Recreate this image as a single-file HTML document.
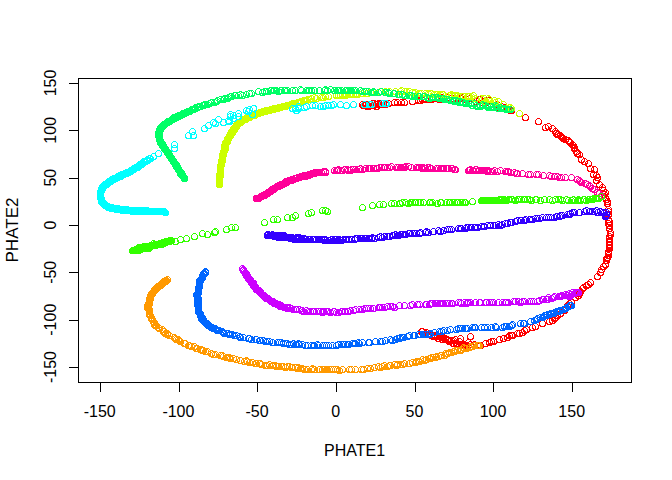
<!DOCTYPE html>
<html><head><meta charset="utf-8"><style>
html,body{margin:0;padding:0;background:#fff;}
svg{display:block;}
text{font-family:"Liberation Sans",sans-serif;font-size:16px;fill:#000;}
</style></head><body>
<svg width="672" height="480" viewBox="0 0 672 480">
<rect width="672" height="480" fill="#fff"/>
<g fill="none" stroke-width="1" shape-rendering="crispEdges">
<g stroke="#FF0000">
<circle cx="499.5" cy="339.5" r="3"/>
<circle cx="548.5" cy="126.5" r="3"/>
<circle cx="495.5" cy="105.5" r="3"/>
<circle cx="522.5" cy="332.5" r="3"/>
<circle cx="451.5" cy="340.5" r="3"/>
<circle cx="581.5" cy="159.5" r="3"/>
<circle cx="421.5" cy="331.5" r="3"/>
<circle cx="489.5" cy="100.5" r="3"/>
<circle cx="609.5" cy="247.5" r="3"/>
<circle cx="535.5" cy="326.5" r="3"/>
<circle cx="519.5" cy="333.5" r="3"/>
<circle cx="609.5" cy="248.5" r="3"/>
<circle cx="509.5" cy="335.5" r="3"/>
<circle cx="480.5" cy="345.5" r="3"/>
<circle cx="555.5" cy="131.5" r="3"/>
<circle cx="569.5" cy="141.5" r="3"/>
<circle cx="366.5" cy="104.5" r="3"/>
<circle cx="532.5" cy="327.5" r="3"/>
<circle cx="368.5" cy="105.5" r="3"/>
<circle cx="437.5" cy="98.5" r="3"/>
<circle cx="362.5" cy="104.5" r="3"/>
<circle cx="442.5" cy="336.5" r="3"/>
<circle cx="586.5" cy="285.5" r="3"/>
<circle cx="542.5" cy="323.5" r="3"/>
<circle cx="607.5" cy="257.5" r="3"/>
<circle cx="368.5" cy="106.5" r="3"/>
<circle cx="378.5" cy="103.5" r="3"/>
<circle cx="425.5" cy="333.5" r="3"/>
<circle cx="590.5" cy="168.5" r="3"/>
<circle cx="374.5" cy="103.5" r="3"/>
<circle cx="371.5" cy="104.5" r="3"/>
<circle cx="447.5" cy="339.5" r="3"/>
<circle cx="558.5" cy="134.5" r="3"/>
<circle cx="453.5" cy="343.5" r="3"/>
<circle cx="497.5" cy="104.5" r="3"/>
<circle cx="563.5" cy="138.5" r="3"/>
<circle cx="569.5" cy="303.5" r="3"/>
<circle cx="582.5" cy="288.5" r="3"/>
<circle cx="557.5" cy="134.5" r="3"/>
<circle cx="470.5" cy="336.5" r="3"/>
<circle cx="412.5" cy="101.5" r="3"/>
<circle cx="485.5" cy="343.5" r="3"/>
<circle cx="568.5" cy="140.5" r="3"/>
<circle cx="560.5" cy="313.5" r="3"/>
<circle cx="554.5" cy="318.5" r="3"/>
<circle cx="579.5" cy="293.5" r="3"/>
<circle cx="573.5" cy="145.5" r="3"/>
<circle cx="608.5" cy="253.5" r="3"/>
<circle cx="609.5" cy="242.5" r="3"/>
<circle cx="504.5" cy="107.5" r="3"/>
<circle cx="435.5" cy="336.5" r="3"/>
<circle cx="442.5" cy="97.5" r="3"/>
<circle cx="606.5" cy="258.5" r="3"/>
<circle cx="397.5" cy="102.5" r="3"/>
<circle cx="449.5" cy="341.5" r="3"/>
<circle cx="603.5" cy="266.5" r="3"/>
<circle cx="482.5" cy="102.5" r="3"/>
<circle cx="429.5" cy="99.5" r="3"/>
<circle cx="422.5" cy="331.5" r="3"/>
<circle cx="608.5" cy="255.5" r="3"/>
<circle cx="600.5" cy="272.5" r="3"/>
<circle cx="538.5" cy="121.5" r="3"/>
<circle cx="610.5" cy="234.5" r="3"/>
<circle cx="602.5" cy="187.5" r="3"/>
<circle cx="425.5" cy="99.5" r="3"/>
<circle cx="565.5" cy="139.5" r="3"/>
<circle cx="460.5" cy="338.5" r="3"/>
<circle cx="608.5" cy="214.5" r="3"/>
<circle cx="608.5" cy="211.5" r="3"/>
<circle cx="590.5" cy="282.5" r="3"/>
<circle cx="386.5" cy="103.5" r="3"/>
<circle cx="606.5" cy="199.5" r="3"/>
<circle cx="509.5" cy="109.5" r="3"/>
<circle cx="597.5" cy="177.5" r="3"/>
<circle cx="486.5" cy="102.5" r="3"/>
<circle cx="428.5" cy="334.5" r="3"/>
<circle cx="404.5" cy="102.5" r="3"/>
<circle cx="372.5" cy="105.5" r="3"/>
<circle cx="570.5" cy="142.5" r="3"/>
<circle cx="372.5" cy="103.5" r="3"/>
<circle cx="364.5" cy="104.5" r="3"/>
<circle cx="562.5" cy="137.5" r="3"/>
<circle cx="469.5" cy="98.5" r="3"/>
<circle cx="503.5" cy="338.5" r="3"/>
<circle cx="549.5" cy="321.5" r="3"/>
<circle cx="583.5" cy="287.5" r="3"/>
<circle cx="507.5" cy="109.5" r="3"/>
<circle cx="510.5" cy="110.5" r="3"/>
<circle cx="575.5" cy="297.5" r="3"/>
<circle cx="519.5" cy="113.5" r="3"/>
<circle cx="608.5" cy="251.5" r="3"/>
<circle cx="466.5" cy="345.5" r="3"/>
<circle cx="491.5" cy="341.5" r="3"/>
<circle cx="609.5" cy="238.5" r="3"/>
<circle cx="577.5" cy="153.5" r="3"/>
<circle cx="456.5" cy="343.5" r="3"/>
<circle cx="461.5" cy="344.5" r="3"/>
<circle cx="609.5" cy="221.5" r="3"/>
<circle cx="579.5" cy="154.5" r="3"/>
<circle cx="507.5" cy="337.5" r="3"/>
<circle cx="597.5" cy="276.5" r="3"/>
<circle cx="457.5" cy="343.5" r="3"/>
<circle cx="572.5" cy="144.5" r="3"/>
<circle cx="574.5" cy="147.5" r="3"/>
<circle cx="458.5" cy="99.5" r="3"/>
<circle cx="363.5" cy="105.5" r="3"/>
<circle cx="498.5" cy="107.5" r="3"/>
<circle cx="435.5" cy="98.5" r="3"/>
<circle cx="453.5" cy="98.5" r="3"/>
<circle cx="607.5" cy="201.5" r="3"/>
<circle cx="459.5" cy="341.5" r="3"/>
<circle cx="564.5" cy="310.5" r="3"/>
<circle cx="465.5" cy="345.5" r="3"/>
<circle cx="388.5" cy="103.5" r="3"/>
<circle cx="555.5" cy="317.5" r="3"/>
<circle cx="383.5" cy="103.5" r="3"/>
<circle cx="603.5" cy="190.5" r="3"/>
<circle cx="485.5" cy="100.5" r="3"/>
<circle cx="605.5" cy="192.5" r="3"/>
<circle cx="474.5" cy="344.5" r="3"/>
<circle cx="588.5" cy="163.5" r="3"/>
<circle cx="556.5" cy="133.5" r="3"/>
<circle cx="610.5" cy="232.5" r="3"/>
<circle cx="445.5" cy="338.5" r="3"/>
<circle cx="609.5" cy="236.5" r="3"/>
<circle cx="375.5" cy="104.5" r="3"/>
<circle cx="588.5" cy="284.5" r="3"/>
<circle cx="489.5" cy="342.5" r="3"/>
<circle cx="478.5" cy="345.5" r="3"/>
<circle cx="560.5" cy="135.5" r="3"/>
<circle cx="545.5" cy="127.5" r="3"/>
<circle cx="448.5" cy="340.5" r="3"/>
<circle cx="445.5" cy="339.5" r="3"/>
<circle cx="440.5" cy="336.5" r="3"/>
<circle cx="571.5" cy="301.5" r="3"/>
<circle cx="380.5" cy="104.5" r="3"/>
<circle cx="574.5" cy="148.5" r="3"/>
<circle cx="552.5" cy="320.5" r="3"/>
<circle cx="526.5" cy="329.5" r="3"/>
<circle cx="512.5" cy="335.5" r="3"/>
<circle cx="448.5" cy="97.5" r="3"/>
<circle cx="466.5" cy="99.5" r="3"/>
<circle cx="431.5" cy="335.5" r="3"/>
<circle cx="596.5" cy="180.5" r="3"/>
<circle cx="442.5" cy="339.5" r="3"/>
<circle cx="609.5" cy="241.5" r="3"/>
<circle cx="608.5" cy="209.5" r="3"/>
<circle cx="460.5" cy="98.5" r="3"/>
<circle cx="438.5" cy="338.5" r="3"/>
<circle cx="370.5" cy="104.5" r="3"/>
<circle cx="365.5" cy="105.5" r="3"/>
<circle cx="599.5" cy="184.5" r="3"/>
<circle cx="481.5" cy="100.5" r="3"/>
<circle cx="609.5" cy="225.5" r="3"/>
<circle cx="594.5" cy="169.5" r="3"/>
<circle cx="463.5" cy="344.5" r="3"/>
<circle cx="608.5" cy="223.5" r="3"/>
<circle cx="609.5" cy="245.5" r="3"/>
<circle cx="605.5" cy="197.5" r="3"/>
<circle cx="576.5" cy="151.5" r="3"/>
<circle cx="493.5" cy="341.5" r="3"/>
<circle cx="377.5" cy="104.5" r="3"/>
<circle cx="609.5" cy="244.5" r="3"/>
<circle cx="373.5" cy="105.5" r="3"/>
<circle cx="557.5" cy="315.5" r="3"/>
<circle cx="437.5" cy="336.5" r="3"/>
<circle cx="561.5" cy="136.5" r="3"/>
<circle cx="439.5" cy="99.5" r="3"/>
<circle cx="456.5" cy="100.5" r="3"/>
<circle cx="479.5" cy="99.5" r="3"/>
<circle cx="443.5" cy="337.5" r="3"/>
<circle cx="462.5" cy="97.5" r="3"/>
<circle cx="552.5" cy="128.5" r="3"/>
<circle cx="431.5" cy="99.5" r="3"/>
<circle cx="455.5" cy="339.5" r="3"/>
<circle cx="439.5" cy="336.5" r="3"/>
<circle cx="601.5" cy="269.5" r="3"/>
<circle cx="524.5" cy="330.5" r="3"/>
<circle cx="578.5" cy="295.5" r="3"/>
<circle cx="369.5" cy="104.5" r="3"/>
<circle cx="367.5" cy="106.5" r="3"/>
<circle cx="394.5" cy="102.5" r="3"/>
<circle cx="608.5" cy="252.5" r="3"/>
<circle cx="376.5" cy="106.5" r="3"/>
<circle cx="464.5" cy="99.5" r="3"/>
<circle cx="435.5" cy="335.5" r="3"/>
<circle cx="606.5" cy="260.5" r="3"/>
<circle cx="584.5" cy="161.5" r="3"/>
<circle cx="511.5" cy="335.5" r="3"/>
<circle cx="605.5" cy="264.5" r="3"/>
<circle cx="426.5" cy="332.5" r="3"/>
<circle cx="401.5" cy="102.5" r="3"/>
<circle cx="596.5" cy="175.5" r="3"/>
<circle cx="593.5" cy="174.5" r="3"/>
<circle cx="470.5" cy="344.5" r="3"/>
<circle cx="567.5" cy="305.5" r="3"/>
<circle cx="430.5" cy="333.5" r="3"/>
<circle cx="525.5" cy="117.5" r="3"/>
<circle cx="365.5" cy="104.5" r="3"/>
<circle cx="468.5" cy="342.5" r="3"/>
<circle cx="517.5" cy="333.5" r="3"/>
<circle cx="607.5" cy="203.5" r="3"/>
<circle cx="476.5" cy="101.5" r="3"/>
<circle cx="418.5" cy="100.5" r="3"/>
<circle cx="459.5" cy="345.5" r="3"/>
<circle cx="433.5" cy="336.5" r="3"/>
<circle cx="580.5" cy="291.5" r="3"/>
<circle cx="608.5" cy="219.5" r="3"/>
<circle cx="609.5" cy="228.5" r="3"/>
<circle cx="385.5" cy="104.5" r="3"/>
<circle cx="604.5" cy="194.5" r="3"/>
<circle cx="511.5" cy="110.5" r="3"/>
<circle cx="381.5" cy="103.5" r="3"/>
<circle cx="453.5" cy="340.5" r="3"/>
<circle cx="420.5" cy="100.5" r="3"/>
<circle cx="501.5" cy="106.5" r="3"/>
<circle cx="422.5" cy="99.5" r="3"/>
</g>
<g stroke="#FF9900">
<circle cx="275.5" cy="365.5" r="3"/>
<circle cx="155.5" cy="289.5" r="3"/>
<circle cx="150.5" cy="298.5" r="3"/>
<circle cx="412.5" cy="362.5" r="3"/>
<circle cx="327.5" cy="369.5" r="3"/>
<circle cx="148.5" cy="306.5" r="3"/>
<circle cx="342.5" cy="369.5" r="3"/>
<circle cx="159.5" cy="328.5" r="3"/>
<circle cx="426.5" cy="359.5" r="3"/>
<circle cx="435.5" cy="357.5" r="3"/>
<circle cx="438.5" cy="356.5" r="3"/>
<circle cx="339.5" cy="370.5" r="3"/>
<circle cx="156.5" cy="287.5" r="3"/>
<circle cx="295.5" cy="367.5" r="3"/>
<circle cx="298.5" cy="367.5" r="3"/>
<circle cx="201.5" cy="349.5" r="3"/>
<circle cx="148.5" cy="308.5" r="3"/>
<circle cx="455.5" cy="350.5" r="3"/>
<circle cx="265.5" cy="365.5" r="3"/>
<circle cx="163.5" cy="282.5" r="3"/>
<circle cx="156.5" cy="325.5" r="3"/>
<circle cx="179.5" cy="340.5" r="3"/>
<circle cx="211.5" cy="353.5" r="3"/>
<circle cx="384.5" cy="365.5" r="3"/>
<circle cx="249.5" cy="362.5" r="3"/>
<circle cx="453.5" cy="351.5" r="3"/>
<circle cx="226.5" cy="357.5" r="3"/>
<circle cx="267.5" cy="365.5" r="3"/>
<circle cx="180.5" cy="341.5" r="3"/>
<circle cx="149.5" cy="298.5" r="3"/>
<circle cx="158.5" cy="286.5" r="3"/>
<circle cx="150.5" cy="296.5" r="3"/>
<circle cx="151.5" cy="317.5" r="3"/>
<circle cx="422.5" cy="359.5" r="3"/>
<circle cx="416.5" cy="361.5" r="3"/>
<circle cx="149.5" cy="301.5" r="3"/>
<circle cx="194.5" cy="346.5" r="3"/>
<circle cx="157.5" cy="286.5" r="3"/>
<circle cx="167.5" cy="333.5" r="3"/>
<circle cx="460.5" cy="350.5" r="3"/>
<circle cx="273.5" cy="365.5" r="3"/>
<circle cx="389.5" cy="365.5" r="3"/>
<circle cx="165.5" cy="280.5" r="3"/>
<circle cx="367.5" cy="368.5" r="3"/>
<circle cx="154.5" cy="322.5" r="3"/>
<circle cx="260.5" cy="363.5" r="3"/>
<circle cx="387.5" cy="366.5" r="3"/>
<circle cx="169.5" cy="335.5" r="3"/>
<circle cx="205.5" cy="351.5" r="3"/>
<circle cx="166.5" cy="280.5" r="3"/>
<circle cx="154.5" cy="324.5" r="3"/>
<circle cx="374.5" cy="367.5" r="3"/>
<circle cx="167.5" cy="279.5" r="3"/>
<circle cx="164.5" cy="331.5" r="3"/>
<circle cx="149.5" cy="299.5" r="3"/>
<circle cx="227.5" cy="357.5" r="3"/>
<circle cx="149.5" cy="314.5" r="3"/>
<circle cx="222.5" cy="355.5" r="3"/>
<circle cx="161.5" cy="284.5" r="3"/>
<circle cx="380.5" cy="367.5" r="3"/>
<circle cx="213.5" cy="354.5" r="3"/>
<circle cx="252.5" cy="362.5" r="3"/>
<circle cx="147.5" cy="305.5" r="3"/>
<circle cx="153.5" cy="291.5" r="3"/>
<circle cx="400.5" cy="364.5" r="3"/>
<circle cx="351.5" cy="369.5" r="3"/>
<circle cx="164.5" cy="281.5" r="3"/>
<circle cx="155.5" cy="325.5" r="3"/>
<circle cx="158.5" cy="327.5" r="3"/>
<circle cx="202.5" cy="350.5" r="3"/>
<circle cx="220.5" cy="355.5" r="3"/>
<circle cx="162.5" cy="283.5" r="3"/>
<circle cx="312.5" cy="368.5" r="3"/>
<circle cx="361.5" cy="369.5" r="3"/>
<circle cx="331.5" cy="369.5" r="3"/>
<circle cx="236.5" cy="359.5" r="3"/>
<circle cx="454.5" cy="351.5" r="3"/>
<circle cx="402.5" cy="364.5" r="3"/>
<circle cx="150.5" cy="295.5" r="3"/>
<circle cx="154.5" cy="290.5" r="3"/>
<circle cx="151.5" cy="318.5" r="3"/>
<circle cx="326.5" cy="369.5" r="3"/>
<circle cx="160.5" cy="284.5" r="3"/>
<circle cx="152.5" cy="319.5" r="3"/>
<circle cx="479.5" cy="345.5" r="3"/>
<circle cx="149.5" cy="300.5" r="3"/>
<circle cx="197.5" cy="348.5" r="3"/>
<circle cx="151.5" cy="294.5" r="3"/>
<circle cx="178.5" cy="339.5" r="3"/>
<circle cx="150.5" cy="315.5" r="3"/>
<circle cx="261.5" cy="364.5" r="3"/>
<circle cx="396.5" cy="365.5" r="3"/>
<circle cx="156.5" cy="288.5" r="3"/>
<circle cx="152.5" cy="293.5" r="3"/>
<circle cx="404.5" cy="363.5" r="3"/>
<circle cx="184.5" cy="343.5" r="3"/>
<circle cx="276.5" cy="366.5" r="3"/>
<circle cx="424.5" cy="360.5" r="3"/>
<circle cx="247.5" cy="361.5" r="3"/>
<circle cx="154.5" cy="289.5" r="3"/>
<circle cx="157.5" cy="287.5" r="3"/>
<circle cx="259.5" cy="363.5" r="3"/>
<circle cx="390.5" cy="365.5" r="3"/>
<circle cx="203.5" cy="350.5" r="3"/>
<circle cx="185.5" cy="343.5" r="3"/>
<circle cx="451.5" cy="352.5" r="3"/>
<circle cx="409.5" cy="363.5" r="3"/>
<circle cx="319.5" cy="369.5" r="3"/>
<circle cx="148.5" cy="304.5" r="3"/>
<circle cx="230.5" cy="358.5" r="3"/>
<circle cx="151.5" cy="293.5" r="3"/>
<circle cx="215.5" cy="354.5" r="3"/>
<circle cx="191.5" cy="346.5" r="3"/>
<circle cx="431.5" cy="357.5" r="3"/>
<circle cx="297.5" cy="368.5" r="3"/>
<circle cx="337.5" cy="369.5" r="3"/>
<circle cx="329.5" cy="369.5" r="3"/>
<circle cx="430.5" cy="358.5" r="3"/>
<circle cx="278.5" cy="366.5" r="3"/>
<circle cx="153.5" cy="321.5" r="3"/>
<circle cx="287.5" cy="366.5" r="3"/>
<circle cx="461.5" cy="349.5" r="3"/>
<circle cx="165.5" cy="281.5" r="3"/>
<circle cx="291.5" cy="367.5" r="3"/>
<circle cx="188.5" cy="345.5" r="3"/>
<circle cx="300.5" cy="368.5" r="3"/>
<circle cx="149.5" cy="302.5" r="3"/>
<circle cx="160.5" cy="285.5" r="3"/>
<circle cx="349.5" cy="369.5" r="3"/>
<circle cx="149.5" cy="303.5" r="3"/>
<circle cx="148.5" cy="303.5" r="3"/>
<circle cx="255.5" cy="363.5" r="3"/>
<circle cx="449.5" cy="352.5" r="3"/>
<circle cx="269.5" cy="364.5" r="3"/>
<circle cx="335.5" cy="369.5" r="3"/>
<circle cx="307.5" cy="369.5" r="3"/>
<circle cx="167.5" cy="334.5" r="3"/>
<circle cx="355.5" cy="369.5" r="3"/>
<circle cx="457.5" cy="350.5" r="3"/>
<circle cx="161.5" cy="283.5" r="3"/>
<circle cx="149.5" cy="309.5" r="3"/>
<circle cx="314.5" cy="369.5" r="3"/>
<circle cx="189.5" cy="345.5" r="3"/>
<circle cx="463.5" cy="347.5" r="3"/>
<circle cx="285.5" cy="367.5" r="3"/>
<circle cx="244.5" cy="361.5" r="3"/>
<circle cx="233.5" cy="358.5" r="3"/>
<circle cx="159.5" cy="285.5" r="3"/>
<circle cx="175.5" cy="338.5" r="3"/>
<circle cx="470.5" cy="346.5" r="3"/>
<circle cx="163.5" cy="331.5" r="3"/>
<circle cx="436.5" cy="356.5" r="3"/>
<circle cx="464.5" cy="348.5" r="3"/>
<circle cx="246.5" cy="360.5" r="3"/>
<circle cx="311.5" cy="369.5" r="3"/>
<circle cx="289.5" cy="366.5" r="3"/>
<circle cx="382.5" cy="366.5" r="3"/>
<circle cx="152.5" cy="292.5" r="3"/>
<circle cx="477.5" cy="345.5" r="3"/>
<circle cx="440.5" cy="355.5" r="3"/>
<circle cx="304.5" cy="369.5" r="3"/>
<circle cx="397.5" cy="364.5" r="3"/>
<circle cx="363.5" cy="369.5" r="3"/>
<circle cx="147.5" cy="307.5" r="3"/>
<circle cx="150.5" cy="297.5" r="3"/>
<circle cx="302.5" cy="368.5" r="3"/>
<circle cx="472.5" cy="346.5" r="3"/>
<circle cx="419.5" cy="361.5" r="3"/>
<circle cx="196.5" cy="348.5" r="3"/>
<circle cx="378.5" cy="366.5" r="3"/>
<circle cx="444.5" cy="355.5" r="3"/>
<circle cx="149.5" cy="310.5" r="3"/>
<circle cx="433.5" cy="357.5" r="3"/>
<circle cx="370.5" cy="368.5" r="3"/>
<circle cx="447.5" cy="353.5" r="3"/>
<circle cx="292.5" cy="367.5" r="3"/>
<circle cx="149.5" cy="311.5" r="3"/>
<circle cx="478.5" cy="345.5" r="3"/>
<circle cx="394.5" cy="364.5" r="3"/>
<circle cx="256.5" cy="363.5" r="3"/>
<circle cx="466.5" cy="348.5" r="3"/>
<circle cx="207.5" cy="351.5" r="3"/>
<circle cx="272.5" cy="365.5" r="3"/>
<circle cx="441.5" cy="355.5" r="3"/>
<circle cx="240.5" cy="360.5" r="3"/>
<circle cx="149.5" cy="313.5" r="3"/>
<circle cx="322.5" cy="369.5" r="3"/>
<circle cx="165.5" cy="333.5" r="3"/>
<circle cx="445.5" cy="353.5" r="3"/>
<circle cx="429.5" cy="358.5" r="3"/>
<circle cx="469.5" cy="347.5" r="3"/>
<circle cx="324.5" cy="369.5" r="3"/>
<circle cx="200.5" cy="349.5" r="3"/>
<circle cx="418.5" cy="361.5" r="3"/>
<circle cx="474.5" cy="345.5" r="3"/>
<circle cx="333.5" cy="369.5" r="3"/>
<circle cx="415.5" cy="362.5" r="3"/>
<circle cx="162.5" cy="329.5" r="3"/>
<circle cx="174.5" cy="337.5" r="3"/>
<circle cx="163.5" cy="281.5" r="3"/>
<circle cx="223.5" cy="356.5" r="3"/>
<circle cx="229.5" cy="357.5" r="3"/>
<circle cx="281.5" cy="366.5" r="3"/>
<circle cx="283.5" cy="366.5" r="3"/>
<circle cx="176.5" cy="339.5" r="3"/>
</g>
<g stroke="#CCFF00">
<circle cx="267.5" cy="110.5" r="3"/>
<circle cx="309.5" cy="99.5" r="3"/>
<circle cx="221.5" cy="162.5" r="3"/>
<circle cx="222.5" cy="156.5" r="3"/>
<circle cx="221.5" cy="163.5" r="3"/>
<circle cx="225.5" cy="144.5" r="3"/>
<circle cx="485.5" cy="101.5" r="3"/>
<circle cx="231.5" cy="131.5" r="3"/>
<circle cx="255.5" cy="114.5" r="3"/>
<circle cx="221.5" cy="160.5" r="3"/>
<circle cx="220.5" cy="168.5" r="3"/>
<circle cx="489.5" cy="99.5" r="3"/>
<circle cx="248.5" cy="117.5" r="3"/>
<circle cx="224.5" cy="148.5" r="3"/>
<circle cx="234.5" cy="129.5" r="3"/>
<circle cx="223.5" cy="151.5" r="3"/>
<circle cx="223.5" cy="152.5" r="3"/>
<circle cx="357.5" cy="94.5" r="3"/>
<circle cx="340.5" cy="95.5" r="3"/>
<circle cx="229.5" cy="136.5" r="3"/>
<circle cx="469.5" cy="96.5" r="3"/>
<circle cx="272.5" cy="109.5" r="3"/>
<circle cx="251.5" cy="115.5" r="3"/>
<circle cx="429.5" cy="94.5" r="3"/>
<circle cx="278.5" cy="107.5" r="3"/>
<circle cx="305.5" cy="100.5" r="3"/>
<circle cx="366.5" cy="93.5" r="3"/>
<circle cx="452.5" cy="95.5" r="3"/>
<circle cx="227.5" cy="140.5" r="3"/>
<circle cx="261.5" cy="112.5" r="3"/>
<circle cx="258.5" cy="113.5" r="3"/>
<circle cx="257.5" cy="113.5" r="3"/>
<circle cx="471.5" cy="96.5" r="3"/>
<circle cx="451.5" cy="94.5" r="3"/>
<circle cx="459.5" cy="96.5" r="3"/>
<circle cx="286.5" cy="105.5" r="3"/>
<circle cx="228.5" cy="137.5" r="3"/>
<circle cx="244.5" cy="119.5" r="3"/>
<circle cx="415.5" cy="92.5" r="3"/>
<circle cx="425.5" cy="93.5" r="3"/>
<circle cx="231.5" cy="133.5" r="3"/>
<circle cx="265.5" cy="111.5" r="3"/>
<circle cx="283.5" cy="106.5" r="3"/>
<circle cx="219.5" cy="184.5" r="3"/>
<circle cx="303.5" cy="100.5" r="3"/>
<circle cx="457.5" cy="95.5" r="3"/>
<circle cx="226.5" cy="141.5" r="3"/>
<circle cx="219.5" cy="177.5" r="3"/>
<circle cx="254.5" cy="114.5" r="3"/>
<circle cx="316.5" cy="98.5" r="3"/>
<circle cx="259.5" cy="112.5" r="3"/>
<circle cx="336.5" cy="95.5" r="3"/>
<circle cx="276.5" cy="108.5" r="3"/>
<circle cx="298.5" cy="102.5" r="3"/>
<circle cx="443.5" cy="94.5" r="3"/>
<circle cx="249.5" cy="116.5" r="3"/>
<circle cx="268.5" cy="110.5" r="3"/>
<circle cx="225.5" cy="143.5" r="3"/>
<circle cx="274.5" cy="108.5" r="3"/>
<circle cx="236.5" cy="126.5" r="3"/>
<circle cx="230.5" cy="134.5" r="3"/>
<circle cx="300.5" cy="101.5" r="3"/>
<circle cx="282.5" cy="106.5" r="3"/>
<circle cx="236.5" cy="125.5" r="3"/>
<circle cx="367.5" cy="93.5" r="3"/>
<circle cx="484.5" cy="98.5" r="3"/>
<circle cx="262.5" cy="111.5" r="3"/>
<circle cx="240.5" cy="121.5" r="3"/>
<circle cx="295.5" cy="103.5" r="3"/>
<circle cx="253.5" cy="115.5" r="3"/>
<circle cx="353.5" cy="94.5" r="3"/>
<circle cx="230.5" cy="133.5" r="3"/>
<circle cx="221.5" cy="164.5" r="3"/>
<circle cx="219.5" cy="180.5" r="3"/>
<circle cx="245.5" cy="118.5" r="3"/>
<circle cx="290.5" cy="104.5" r="3"/>
<circle cx="233.5" cy="128.5" r="3"/>
<circle cx="370.5" cy="92.5" r="3"/>
<circle cx="223.5" cy="153.5" r="3"/>
<circle cx="442.5" cy="94.5" r="3"/>
<circle cx="273.5" cy="109.5" r="3"/>
<circle cx="233.5" cy="129.5" r="3"/>
<circle cx="494.5" cy="100.5" r="3"/>
<circle cx="219.5" cy="176.5" r="3"/>
<circle cx="454.5" cy="95.5" r="3"/>
<circle cx="325.5" cy="96.5" r="3"/>
<circle cx="380.5" cy="91.5" r="3"/>
<circle cx="219.5" cy="178.5" r="3"/>
<circle cx="246.5" cy="117.5" r="3"/>
<circle cx="314.5" cy="97.5" r="3"/>
<circle cx="256.5" cy="113.5" r="3"/>
<circle cx="222.5" cy="158.5" r="3"/>
<circle cx="219.5" cy="175.5" r="3"/>
<circle cx="247.5" cy="117.5" r="3"/>
<circle cx="260.5" cy="112.5" r="3"/>
<circle cx="241.5" cy="120.5" r="3"/>
<circle cx="306.5" cy="100.5" r="3"/>
<circle cx="461.5" cy="96.5" r="3"/>
<circle cx="222.5" cy="154.5" r="3"/>
<circle cx="220.5" cy="175.5" r="3"/>
<circle cx="297.5" cy="102.5" r="3"/>
<circle cx="400.5" cy="91.5" r="3"/>
<circle cx="263.5" cy="111.5" r="3"/>
<circle cx="468.5" cy="96.5" r="3"/>
<circle cx="220.5" cy="170.5" r="3"/>
<circle cx="482.5" cy="99.5" r="3"/>
<circle cx="362.5" cy="93.5" r="3"/>
<circle cx="328.5" cy="96.5" r="3"/>
<circle cx="242.5" cy="119.5" r="3"/>
<circle cx="401.5" cy="90.5" r="3"/>
<circle cx="395.5" cy="91.5" r="3"/>
<circle cx="279.5" cy="107.5" r="3"/>
<circle cx="249.5" cy="117.5" r="3"/>
<circle cx="238.5" cy="123.5" r="3"/>
<circle cx="231.5" cy="132.5" r="3"/>
<circle cx="292.5" cy="103.5" r="3"/>
<circle cx="222.5" cy="155.5" r="3"/>
<circle cx="488.5" cy="98.5" r="3"/>
<circle cx="409.5" cy="91.5" r="3"/>
<circle cx="385.5" cy="91.5" r="3"/>
<circle cx="404.5" cy="91.5" r="3"/>
<circle cx="222.5" cy="159.5" r="3"/>
<circle cx="235.5" cy="127.5" r="3"/>
<circle cx="250.5" cy="116.5" r="3"/>
<circle cx="304.5" cy="100.5" r="3"/>
<circle cx="481.5" cy="98.5" r="3"/>
<circle cx="225.5" cy="148.5" r="3"/>
<circle cx="269.5" cy="110.5" r="3"/>
<circle cx="465.5" cy="96.5" r="3"/>
<circle cx="219.5" cy="174.5" r="3"/>
<circle cx="224.5" cy="146.5" r="3"/>
<circle cx="241.5" cy="121.5" r="3"/>
<circle cx="237.5" cy="124.5" r="3"/>
<circle cx="437.5" cy="94.5" r="3"/>
<circle cx="338.5" cy="95.5" r="3"/>
<circle cx="220.5" cy="173.5" r="3"/>
<circle cx="350.5" cy="94.5" r="3"/>
<circle cx="230.5" cy="135.5" r="3"/>
<circle cx="414.5" cy="93.5" r="3"/>
<circle cx="246.5" cy="118.5" r="3"/>
<circle cx="223.5" cy="154.5" r="3"/>
<circle cx="455.5" cy="95.5" r="3"/>
<circle cx="440.5" cy="94.5" r="3"/>
<circle cx="222.5" cy="157.5" r="3"/>
<circle cx="219.5" cy="181.5" r="3"/>
<circle cx="406.5" cy="91.5" r="3"/>
<circle cx="287.5" cy="105.5" r="3"/>
<circle cx="219.5" cy="179.5" r="3"/>
<circle cx="294.5" cy="103.5" r="3"/>
<circle cx="219.5" cy="182.5" r="3"/>
<circle cx="323.5" cy="97.5" r="3"/>
<circle cx="224.5" cy="149.5" r="3"/>
<circle cx="355.5" cy="94.5" r="3"/>
<circle cx="220.5" cy="166.5" r="3"/>
<circle cx="307.5" cy="99.5" r="3"/>
<circle cx="475.5" cy="98.5" r="3"/>
<circle cx="293.5" cy="103.5" r="3"/>
<circle cx="220.5" cy="165.5" r="3"/>
<circle cx="490.5" cy="101.5" r="3"/>
<circle cx="421.5" cy="93.5" r="3"/>
<circle cx="321.5" cy="97.5" r="3"/>
<circle cx="349.5" cy="94.5" r="3"/>
<circle cx="225.5" cy="142.5" r="3"/>
<circle cx="266.5" cy="110.5" r="3"/>
<circle cx="221.5" cy="161.5" r="3"/>
<circle cx="431.5" cy="93.5" r="3"/>
<circle cx="342.5" cy="94.5" r="3"/>
<circle cx="345.5" cy="95.5" r="3"/>
<circle cx="428.5" cy="93.5" r="3"/>
<circle cx="284.5" cy="106.5" r="3"/>
<circle cx="463.5" cy="96.5" r="3"/>
<circle cx="228.5" cy="138.5" r="3"/>
<circle cx="435.5" cy="94.5" r="3"/>
<circle cx="280.5" cy="107.5" r="3"/>
<circle cx="242.5" cy="120.5" r="3"/>
<circle cx="265.5" cy="110.5" r="3"/>
<circle cx="373.5" cy="92.5" r="3"/>
<circle cx="232.5" cy="132.5" r="3"/>
<circle cx="498.5" cy="101.5" r="3"/>
<circle cx="234.5" cy="127.5" r="3"/>
<circle cx="220.5" cy="172.5" r="3"/>
<circle cx="275.5" cy="108.5" r="3"/>
<circle cx="243.5" cy="119.5" r="3"/>
<circle cx="224.5" cy="147.5" r="3"/>
<circle cx="239.5" cy="122.5" r="3"/>
<circle cx="301.5" cy="101.5" r="3"/>
<circle cx="236.5" cy="124.5" r="3"/>
<circle cx="419.5" cy="93.5" r="3"/>
<circle cx="277.5" cy="108.5" r="3"/>
<circle cx="519.5" cy="113.5" r="3"/>
<circle cx="220.5" cy="169.5" r="3"/>
<circle cx="227.5" cy="138.5" r="3"/>
<circle cx="412.5" cy="92.5" r="3"/>
<circle cx="227.5" cy="139.5" r="3"/>
<circle cx="264.5" cy="111.5" r="3"/>
<circle cx="225.5" cy="145.5" r="3"/>
<circle cx="503.5" cy="104.5" r="3"/>
<circle cx="291.5" cy="104.5" r="3"/>
<circle cx="232.5" cy="130.5" r="3"/>
<circle cx="220.5" cy="167.5" r="3"/>
<circle cx="222.5" cy="160.5" r="3"/>
<circle cx="245.5" cy="119.5" r="3"/>
<circle cx="449.5" cy="95.5" r="3"/>
<circle cx="270.5" cy="109.5" r="3"/>
<circle cx="346.5" cy="94.5" r="3"/>
<circle cx="227.5" cy="141.5" r="3"/>
<circle cx="511.5" cy="108.5" r="3"/>
<circle cx="220.5" cy="171.5" r="3"/>
<circle cx="224.5" cy="150.5" r="3"/>
<circle cx="311.5" cy="98.5" r="3"/>
<circle cx="229.5" cy="135.5" r="3"/>
<circle cx="389.5" cy="91.5" r="3"/>
<circle cx="495.5" cy="102.5" r="3"/>
<circle cx="473.5" cy="95.5" r="3"/>
<circle cx="288.5" cy="105.5" r="3"/>
<circle cx="219.5" cy="183.5" r="3"/>
<circle cx="271.5" cy="109.5" r="3"/>
<circle cx="254.5" cy="115.5" r="3"/>
<circle cx="224.5" cy="145.5" r="3"/>
<circle cx="510.5" cy="107.5" r="3"/>
<circle cx="226.5" cy="142.5" r="3"/>
<circle cx="433.5" cy="94.5" r="3"/>
<circle cx="234.5" cy="128.5" r="3"/>
<circle cx="240.5" cy="122.5" r="3"/>
<circle cx="273.5" cy="108.5" r="3"/>
<circle cx="285.5" cy="106.5" r="3"/>
</g>
<g stroke="#FF0099">
<circle cx="316.5" cy="172.5" r="3"/>
<circle cx="315.5" cy="172.5" r="3"/>
<circle cx="289.5" cy="180.5" r="3"/>
<circle cx="269.5" cy="191.5" r="3"/>
<circle cx="283.5" cy="183.5" r="3"/>
<circle cx="438.5" cy="168.5" r="3"/>
<circle cx="370.5" cy="168.5" r="3"/>
<circle cx="344.5" cy="169.5" r="3"/>
<circle cx="384.5" cy="167.5" r="3"/>
<circle cx="303.5" cy="175.5" r="3"/>
<circle cx="419.5" cy="167.5" r="3"/>
<circle cx="436.5" cy="168.5" r="3"/>
<circle cx="590.5" cy="186.5" r="3"/>
<circle cx="275.5" cy="187.5" r="3"/>
<circle cx="325.5" cy="171.5" r="3"/>
<circle cx="446.5" cy="168.5" r="3"/>
<circle cx="270.5" cy="190.5" r="3"/>
<circle cx="528.5" cy="174.5" r="3"/>
<circle cx="263.5" cy="195.5" r="3"/>
<circle cx="271.5" cy="189.5" r="3"/>
<circle cx="286.5" cy="182.5" r="3"/>
<circle cx="551.5" cy="176.5" r="3"/>
<circle cx="379.5" cy="167.5" r="3"/>
<circle cx="451.5" cy="168.5" r="3"/>
<circle cx="443.5" cy="168.5" r="3"/>
<circle cx="280.5" cy="185.5" r="3"/>
<circle cx="312.5" cy="173.5" r="3"/>
<circle cx="264.5" cy="194.5" r="3"/>
<circle cx="494.5" cy="170.5" r="3"/>
<circle cx="350.5" cy="170.5" r="3"/>
<circle cx="479.5" cy="170.5" r="3"/>
<circle cx="594.5" cy="189.5" r="3"/>
<circle cx="291.5" cy="179.5" r="3"/>
<circle cx="481.5" cy="170.5" r="3"/>
<circle cx="282.5" cy="184.5" r="3"/>
<circle cx="447.5" cy="168.5" r="3"/>
<circle cx="281.5" cy="184.5" r="3"/>
<circle cx="301.5" cy="176.5" r="3"/>
<circle cx="259.5" cy="197.5" r="3"/>
<circle cx="530.5" cy="174.5" r="3"/>
<circle cx="314.5" cy="172.5" r="3"/>
<circle cx="265.5" cy="194.5" r="3"/>
<circle cx="403.5" cy="167.5" r="3"/>
<circle cx="288.5" cy="180.5" r="3"/>
<circle cx="296.5" cy="178.5" r="3"/>
<circle cx="286.5" cy="181.5" r="3"/>
<circle cx="452.5" cy="168.5" r="3"/>
<circle cx="297.5" cy="177.5" r="3"/>
<circle cx="325.5" cy="172.5" r="3"/>
<circle cx="277.5" cy="186.5" r="3"/>
<circle cx="293.5" cy="179.5" r="3"/>
<circle cx="487.5" cy="171.5" r="3"/>
<circle cx="418.5" cy="167.5" r="3"/>
<circle cx="454.5" cy="169.5" r="3"/>
<circle cx="472.5" cy="170.5" r="3"/>
<circle cx="510.5" cy="172.5" r="3"/>
<circle cx="360.5" cy="168.5" r="3"/>
<circle cx="267.5" cy="192.5" r="3"/>
<circle cx="599.5" cy="193.5" r="3"/>
<circle cx="257.5" cy="198.5" r="3"/>
<circle cx="323.5" cy="171.5" r="3"/>
<circle cx="290.5" cy="180.5" r="3"/>
<circle cx="565.5" cy="177.5" r="3"/>
<circle cx="319.5" cy="172.5" r="3"/>
<circle cx="295.5" cy="178.5" r="3"/>
<circle cx="268.5" cy="192.5" r="3"/>
<circle cx="601.5" cy="195.5" r="3"/>
<circle cx="362.5" cy="169.5" r="3"/>
<circle cx="272.5" cy="189.5" r="3"/>
<circle cx="347.5" cy="169.5" r="3"/>
<circle cx="340.5" cy="170.5" r="3"/>
<circle cx="585.5" cy="183.5" r="3"/>
<circle cx="373.5" cy="168.5" r="3"/>
<circle cx="411.5" cy="167.5" r="3"/>
<circle cx="549.5" cy="175.5" r="3"/>
<circle cx="522.5" cy="173.5" r="3"/>
<circle cx="292.5" cy="179.5" r="3"/>
<circle cx="482.5" cy="170.5" r="3"/>
<circle cx="516.5" cy="173.5" r="3"/>
<circle cx="318.5" cy="172.5" r="3"/>
<circle cx="557.5" cy="176.5" r="3"/>
<circle cx="507.5" cy="171.5" r="3"/>
<circle cx="405.5" cy="166.5" r="3"/>
<circle cx="285.5" cy="181.5" r="3"/>
<circle cx="404.5" cy="167.5" r="3"/>
<circle cx="261.5" cy="196.5" r="3"/>
<circle cx="342.5" cy="170.5" r="3"/>
<circle cx="267.5" cy="193.5" r="3"/>
<circle cx="308.5" cy="175.5" r="3"/>
<circle cx="304.5" cy="175.5" r="3"/>
<circle cx="430.5" cy="168.5" r="3"/>
<circle cx="597.5" cy="192.5" r="3"/>
<circle cx="536.5" cy="174.5" r="3"/>
<circle cx="351.5" cy="169.5" r="3"/>
<circle cx="483.5" cy="170.5" r="3"/>
<circle cx="400.5" cy="167.5" r="3"/>
<circle cx="278.5" cy="186.5" r="3"/>
<circle cx="440.5" cy="168.5" r="3"/>
<circle cx="514.5" cy="172.5" r="3"/>
<circle cx="274.5" cy="188.5" r="3"/>
<circle cx="490.5" cy="171.5" r="3"/>
<circle cx="309.5" cy="174.5" r="3"/>
<circle cx="262.5" cy="195.5" r="3"/>
<circle cx="353.5" cy="169.5" r="3"/>
<circle cx="285.5" cy="182.5" r="3"/>
<circle cx="559.5" cy="177.5" r="3"/>
<circle cx="307.5" cy="175.5" r="3"/>
<circle cx="334.5" cy="170.5" r="3"/>
<circle cx="423.5" cy="167.5" r="3"/>
<circle cx="587.5" cy="184.5" r="3"/>
<circle cx="308.5" cy="174.5" r="3"/>
<circle cx="441.5" cy="168.5" r="3"/>
<circle cx="258.5" cy="198.5" r="3"/>
<circle cx="571.5" cy="177.5" r="3"/>
<circle cx="365.5" cy="168.5" r="3"/>
<circle cx="260.5" cy="196.5" r="3"/>
<circle cx="273.5" cy="189.5" r="3"/>
<circle cx="314.5" cy="173.5" r="3"/>
<circle cx="429.5" cy="167.5" r="3"/>
<circle cx="448.5" cy="168.5" r="3"/>
<circle cx="338.5" cy="169.5" r="3"/>
<circle cx="273.5" cy="188.5" r="3"/>
<circle cx="401.5" cy="167.5" r="3"/>
<circle cx="302.5" cy="176.5" r="3"/>
<circle cx="358.5" cy="169.5" r="3"/>
<circle cx="287.5" cy="181.5" r="3"/>
<circle cx="284.5" cy="182.5" r="3"/>
<circle cx="311.5" cy="173.5" r="3"/>
<circle cx="416.5" cy="167.5" r="3"/>
<circle cx="389.5" cy="167.5" r="3"/>
<circle cx="581.5" cy="182.5" r="3"/>
<circle cx="505.5" cy="171.5" r="3"/>
<circle cx="381.5" cy="167.5" r="3"/>
<circle cx="484.5" cy="170.5" r="3"/>
<circle cx="579.5" cy="180.5" r="3"/>
<circle cx="348.5" cy="170.5" r="3"/>
<circle cx="271.5" cy="190.5" r="3"/>
<circle cx="391.5" cy="166.5" r="3"/>
<circle cx="284.5" cy="183.5" r="3"/>
<circle cx="294.5" cy="178.5" r="3"/>
<circle cx="264.5" cy="195.5" r="3"/>
<circle cx="497.5" cy="171.5" r="3"/>
<circle cx="577.5" cy="179.5" r="3"/>
<circle cx="580.5" cy="181.5" r="3"/>
<circle cx="488.5" cy="170.5" r="3"/>
<circle cx="475.5" cy="169.5" r="3"/>
<circle cx="355.5" cy="169.5" r="3"/>
<circle cx="408.5" cy="166.5" r="3"/>
<circle cx="299.5" cy="177.5" r="3"/>
<circle cx="276.5" cy="186.5" r="3"/>
<circle cx="470.5" cy="169.5" r="3"/>
<circle cx="266.5" cy="193.5" r="3"/>
<circle cx="377.5" cy="168.5" r="3"/>
<circle cx="554.5" cy="176.5" r="3"/>
<circle cx="561.5" cy="177.5" r="3"/>
<circle cx="306.5" cy="175.5" r="3"/>
<circle cx="368.5" cy="168.5" r="3"/>
<circle cx="425.5" cy="168.5" r="3"/>
<circle cx="455.5" cy="169.5" r="3"/>
<circle cx="427.5" cy="167.5" r="3"/>
<circle cx="500.5" cy="170.5" r="3"/>
<circle cx="336.5" cy="170.5" r="3"/>
<circle cx="517.5" cy="173.5" r="3"/>
<circle cx="478.5" cy="170.5" r="3"/>
<circle cx="538.5" cy="174.5" r="3"/>
<circle cx="589.5" cy="185.5" r="3"/>
<circle cx="321.5" cy="172.5" r="3"/>
<circle cx="473.5" cy="170.5" r="3"/>
<circle cx="398.5" cy="167.5" r="3"/>
<circle cx="387.5" cy="167.5" r="3"/>
<circle cx="592.5" cy="188.5" r="3"/>
<circle cx="376.5" cy="168.5" r="3"/>
<circle cx="256.5" cy="198.5" r="3"/>
<circle cx="486.5" cy="170.5" r="3"/>
<circle cx="468.5" cy="170.5" r="3"/>
<circle cx="270.5" cy="191.5" r="3"/>
<circle cx="469.5" cy="170.5" r="3"/>
<circle cx="310.5" cy="174.5" r="3"/>
<circle cx="492.5" cy="171.5" r="3"/>
<circle cx="278.5" cy="185.5" r="3"/>
<circle cx="337.5" cy="170.5" r="3"/>
<circle cx="431.5" cy="168.5" r="3"/>
<circle cx="421.5" cy="167.5" r="3"/>
<circle cx="291.5" cy="180.5" r="3"/>
<circle cx="305.5" cy="176.5" r="3"/>
<circle cx="508.5" cy="171.5" r="3"/>
<circle cx="280.5" cy="184.5" r="3"/>
<circle cx="543.5" cy="175.5" r="3"/>
<circle cx="300.5" cy="176.5" r="3"/>
<circle cx="422.5" cy="168.5" r="3"/>
<circle cx="396.5" cy="167.5" r="3"/>
<circle cx="369.5" cy="168.5" r="3"/>
<circle cx="279.5" cy="185.5" r="3"/>
<circle cx="476.5" cy="169.5" r="3"/>
</g>
<g stroke="#CC00FF">
<circle cx="293.5" cy="309.5" r="3"/>
<circle cx="252.5" cy="282.5" r="3"/>
<circle cx="341.5" cy="311.5" r="3"/>
<circle cx="326.5" cy="311.5" r="3"/>
<circle cx="279.5" cy="304.5" r="3"/>
<circle cx="561.5" cy="295.5" r="3"/>
<circle cx="486.5" cy="302.5" r="3"/>
<circle cx="345.5" cy="311.5" r="3"/>
<circle cx="244.5" cy="271.5" r="3"/>
<circle cx="318.5" cy="311.5" r="3"/>
<circle cx="257.5" cy="289.5" r="3"/>
<circle cx="451.5" cy="303.5" r="3"/>
<circle cx="265.5" cy="297.5" r="3"/>
<circle cx="254.5" cy="285.5" r="3"/>
<circle cx="382.5" cy="307.5" r="3"/>
<circle cx="558.5" cy="296.5" r="3"/>
<circle cx="506.5" cy="302.5" r="3"/>
<circle cx="328.5" cy="311.5" r="3"/>
<circle cx="277.5" cy="304.5" r="3"/>
<circle cx="243.5" cy="270.5" r="3"/>
<circle cx="246.5" cy="273.5" r="3"/>
<circle cx="308.5" cy="311.5" r="3"/>
<circle cx="250.5" cy="279.5" r="3"/>
<circle cx="480.5" cy="302.5" r="3"/>
<circle cx="524.5" cy="301.5" r="3"/>
<circle cx="269.5" cy="299.5" r="3"/>
<circle cx="323.5" cy="311.5" r="3"/>
<circle cx="572.5" cy="292.5" r="3"/>
<circle cx="243.5" cy="269.5" r="3"/>
<circle cx="426.5" cy="304.5" r="3"/>
<circle cx="468.5" cy="302.5" r="3"/>
<circle cx="571.5" cy="294.5" r="3"/>
<circle cx="268.5" cy="298.5" r="3"/>
<circle cx="537.5" cy="301.5" r="3"/>
<circle cx="344.5" cy="311.5" r="3"/>
<circle cx="264.5" cy="295.5" r="3"/>
<circle cx="394.5" cy="307.5" r="3"/>
<circle cx="247.5" cy="276.5" r="3"/>
<circle cx="347.5" cy="311.5" r="3"/>
<circle cx="263.5" cy="295.5" r="3"/>
<circle cx="379.5" cy="307.5" r="3"/>
<circle cx="533.5" cy="301.5" r="3"/>
<circle cx="249.5" cy="278.5" r="3"/>
<circle cx="576.5" cy="292.5" r="3"/>
<circle cx="359.5" cy="309.5" r="3"/>
<circle cx="259.5" cy="291.5" r="3"/>
<circle cx="435.5" cy="303.5" r="3"/>
<circle cx="547.5" cy="299.5" r="3"/>
<circle cx="256.5" cy="288.5" r="3"/>
<circle cx="442.5" cy="303.5" r="3"/>
<circle cx="255.5" cy="287.5" r="3"/>
<circle cx="567.5" cy="295.5" r="3"/>
<circle cx="265.5" cy="296.5" r="3"/>
<circle cx="260.5" cy="292.5" r="3"/>
<circle cx="574.5" cy="293.5" r="3"/>
<circle cx="259.5" cy="290.5" r="3"/>
<circle cx="338.5" cy="312.5" r="3"/>
<circle cx="559.5" cy="296.5" r="3"/>
<circle cx="250.5" cy="280.5" r="3"/>
<circle cx="264.5" cy="296.5" r="3"/>
<circle cx="569.5" cy="296.5" r="3"/>
<circle cx="270.5" cy="300.5" r="3"/>
<circle cx="256.5" cy="289.5" r="3"/>
<circle cx="246.5" cy="275.5" r="3"/>
<circle cx="320.5" cy="311.5" r="3"/>
<circle cx="364.5" cy="308.5" r="3"/>
<circle cx="449.5" cy="303.5" r="3"/>
<circle cx="299.5" cy="309.5" r="3"/>
<circle cx="392.5" cy="306.5" r="3"/>
<circle cx="404.5" cy="305.5" r="3"/>
<circle cx="373.5" cy="308.5" r="3"/>
<circle cx="295.5" cy="309.5" r="3"/>
<circle cx="288.5" cy="308.5" r="3"/>
<circle cx="282.5" cy="306.5" r="3"/>
<circle cx="390.5" cy="306.5" r="3"/>
<circle cx="281.5" cy="305.5" r="3"/>
<circle cx="254.5" cy="286.5" r="3"/>
<circle cx="266.5" cy="298.5" r="3"/>
<circle cx="419.5" cy="304.5" r="3"/>
<circle cx="247.5" cy="275.5" r="3"/>
<circle cx="437.5" cy="303.5" r="3"/>
<circle cx="440.5" cy="303.5" r="3"/>
<circle cx="452.5" cy="303.5" r="3"/>
<circle cx="479.5" cy="302.5" r="3"/>
<circle cx="296.5" cy="309.5" r="3"/>
<circle cx="355.5" cy="309.5" r="3"/>
<circle cx="577.5" cy="292.5" r="3"/>
<circle cx="251.5" cy="281.5" r="3"/>
<circle cx="568.5" cy="295.5" r="3"/>
<circle cx="470.5" cy="302.5" r="3"/>
<circle cx="387.5" cy="306.5" r="3"/>
<circle cx="330.5" cy="312.5" r="3"/>
<circle cx="249.5" cy="279.5" r="3"/>
<circle cx="560.5" cy="296.5" r="3"/>
<circle cx="279.5" cy="305.5" r="3"/>
<circle cx="380.5" cy="307.5" r="3"/>
<circle cx="553.5" cy="297.5" r="3"/>
<circle cx="286.5" cy="307.5" r="3"/>
<circle cx="466.5" cy="303.5" r="3"/>
<circle cx="280.5" cy="306.5" r="3"/>
<circle cx="539.5" cy="300.5" r="3"/>
<circle cx="569.5" cy="293.5" r="3"/>
<circle cx="366.5" cy="308.5" r="3"/>
<circle cx="542.5" cy="299.5" r="3"/>
<circle cx="303.5" cy="311.5" r="3"/>
<circle cx="368.5" cy="308.5" r="3"/>
<circle cx="348.5" cy="311.5" r="3"/>
<circle cx="529.5" cy="301.5" r="3"/>
<circle cx="493.5" cy="302.5" r="3"/>
<circle cx="464.5" cy="302.5" r="3"/>
<circle cx="258.5" cy="290.5" r="3"/>
<circle cx="255.5" cy="286.5" r="3"/>
<circle cx="458.5" cy="302.5" r="3"/>
<circle cx="412.5" cy="304.5" r="3"/>
<circle cx="350.5" cy="310.5" r="3"/>
<circle cx="267.5" cy="298.5" r="3"/>
<circle cx="333.5" cy="311.5" r="3"/>
<circle cx="384.5" cy="307.5" r="3"/>
<circle cx="520.5" cy="302.5" r="3"/>
<circle cx="260.5" cy="291.5" r="3"/>
<circle cx="522.5" cy="301.5" r="3"/>
<circle cx="502.5" cy="302.5" r="3"/>
<circle cx="334.5" cy="311.5" r="3"/>
<circle cx="248.5" cy="278.5" r="3"/>
<circle cx="245.5" cy="272.5" r="3"/>
<circle cx="461.5" cy="303.5" r="3"/>
<circle cx="353.5" cy="310.5" r="3"/>
<circle cx="273.5" cy="302.5" r="3"/>
<circle cx="287.5" cy="308.5" r="3"/>
<circle cx="489.5" cy="302.5" r="3"/>
<circle cx="410.5" cy="305.5" r="3"/>
<circle cx="253.5" cy="284.5" r="3"/>
<circle cx="242.5" cy="268.5" r="3"/>
<circle cx="289.5" cy="307.5" r="3"/>
<circle cx="548.5" cy="297.5" r="3"/>
<circle cx="310.5" cy="311.5" r="3"/>
<circle cx="262.5" cy="294.5" r="3"/>
<circle cx="518.5" cy="301.5" r="3"/>
<circle cx="578.5" cy="292.5" r="3"/>
<circle cx="261.5" cy="293.5" r="3"/>
<circle cx="378.5" cy="307.5" r="3"/>
<circle cx="302.5" cy="310.5" r="3"/>
<circle cx="546.5" cy="299.5" r="3"/>
<circle cx="562.5" cy="295.5" r="3"/>
<circle cx="245.5" cy="273.5" r="3"/>
<circle cx="342.5" cy="311.5" r="3"/>
<circle cx="272.5" cy="301.5" r="3"/>
<circle cx="313.5" cy="311.5" r="3"/>
<circle cx="447.5" cy="303.5" r="3"/>
<circle cx="284.5" cy="307.5" r="3"/>
<circle cx="505.5" cy="302.5" r="3"/>
<circle cx="432.5" cy="303.5" r="3"/>
<circle cx="554.5" cy="296.5" r="3"/>
<circle cx="336.5" cy="312.5" r="3"/>
<circle cx="248.5" cy="277.5" r="3"/>
<circle cx="575.5" cy="292.5" r="3"/>
<circle cx="425.5" cy="304.5" r="3"/>
<circle cx="370.5" cy="308.5" r="3"/>
<circle cx="322.5" cy="312.5" r="3"/>
<circle cx="429.5" cy="304.5" r="3"/>
<circle cx="273.5" cy="301.5" r="3"/>
<circle cx="566.5" cy="295.5" r="3"/>
<circle cx="362.5" cy="309.5" r="3"/>
<circle cx="274.5" cy="302.5" r="3"/>
<circle cx="551.5" cy="298.5" r="3"/>
<circle cx="430.5" cy="303.5" r="3"/>
<circle cx="491.5" cy="302.5" r="3"/>
<circle cx="445.5" cy="303.5" r="3"/>
<circle cx="439.5" cy="303.5" r="3"/>
<circle cx="301.5" cy="310.5" r="3"/>
<circle cx="498.5" cy="302.5" r="3"/>
<circle cx="327.5" cy="311.5" r="3"/>
<circle cx="253.5" cy="285.5" r="3"/>
<circle cx="417.5" cy="304.5" r="3"/>
<circle cx="253.5" cy="283.5" r="3"/>
<circle cx="291.5" cy="308.5" r="3"/>
<circle cx="316.5" cy="311.5" r="3"/>
<circle cx="460.5" cy="302.5" r="3"/>
<circle cx="467.5" cy="302.5" r="3"/>
<circle cx="531.5" cy="301.5" r="3"/>
<circle cx="508.5" cy="302.5" r="3"/>
<circle cx="251.5" cy="282.5" r="3"/>
<circle cx="543.5" cy="299.5" r="3"/>
<circle cx="276.5" cy="303.5" r="3"/>
<circle cx="278.5" cy="304.5" r="3"/>
<circle cx="274.5" cy="303.5" r="3"/>
<circle cx="271.5" cy="301.5" r="3"/>
<circle cx="246.5" cy="274.5" r="3"/>
<circle cx="475.5" cy="302.5" r="3"/>
<circle cx="252.5" cy="283.5" r="3"/>
<circle cx="513.5" cy="301.5" r="3"/>
<circle cx="306.5" cy="310.5" r="3"/>
<circle cx="515.5" cy="301.5" r="3"/>
<circle cx="565.5" cy="294.5" r="3"/>
<circle cx="312.5" cy="311.5" r="3"/>
<circle cx="485.5" cy="302.5" r="3"/>
<circle cx="275.5" cy="303.5" r="3"/>
<circle cx="399.5" cy="305.5" r="3"/>
</g>
<g stroke="#33FF00">
<circle cx="156.5" cy="244.5" r="3"/>
<circle cx="584.5" cy="199.5" r="3"/>
<circle cx="273.5" cy="219.5" r="3"/>
<circle cx="460.5" cy="202.5" r="3"/>
<circle cx="202.5" cy="233.5" r="3"/>
<circle cx="169.5" cy="241.5" r="3"/>
<circle cx="598.5" cy="198.5" r="3"/>
<circle cx="472.5" cy="201.5" r="3"/>
<circle cx="506.5" cy="200.5" r="3"/>
<circle cx="155.5" cy="244.5" r="3"/>
<circle cx="515.5" cy="200.5" r="3"/>
<circle cx="446.5" cy="202.5" r="3"/>
<circle cx="327.5" cy="211.5" r="3"/>
<circle cx="508.5" cy="199.5" r="3"/>
<circle cx="264.5" cy="222.5" r="3"/>
<circle cx="194.5" cy="236.5" r="3"/>
<circle cx="592.5" cy="199.5" r="3"/>
<circle cx="146.5" cy="246.5" r="3"/>
<circle cx="511.5" cy="199.5" r="3"/>
<circle cx="154.5" cy="244.5" r="3"/>
<circle cx="133.5" cy="250.5" r="3"/>
<circle cx="493.5" cy="200.5" r="3"/>
<circle cx="555.5" cy="199.5" r="3"/>
<circle cx="586.5" cy="200.5" r="3"/>
<circle cx="144.5" cy="248.5" r="3"/>
<circle cx="137.5" cy="250.5" r="3"/>
<circle cx="499.5" cy="199.5" r="3"/>
<circle cx="166.5" cy="241.5" r="3"/>
<circle cx="394.5" cy="203.5" r="3"/>
<circle cx="136.5" cy="249.5" r="3"/>
<circle cx="170.5" cy="240.5" r="3"/>
<circle cx="155.5" cy="245.5" r="3"/>
<circle cx="149.5" cy="247.5" r="3"/>
<circle cx="231.5" cy="227.5" r="3"/>
<circle cx="449.5" cy="202.5" r="3"/>
<circle cx="165.5" cy="242.5" r="3"/>
<circle cx="163.5" cy="242.5" r="3"/>
<circle cx="149.5" cy="246.5" r="3"/>
<circle cx="140.5" cy="248.5" r="3"/>
<circle cx="462.5" cy="202.5" r="3"/>
<circle cx="408.5" cy="203.5" r="3"/>
<circle cx="151.5" cy="245.5" r="3"/>
<circle cx="148.5" cy="246.5" r="3"/>
<circle cx="418.5" cy="202.5" r="3"/>
<circle cx="167.5" cy="241.5" r="3"/>
<circle cx="140.5" cy="249.5" r="3"/>
<circle cx="486.5" cy="200.5" r="3"/>
<circle cx="487.5" cy="200.5" r="3"/>
<circle cx="325.5" cy="210.5" r="3"/>
<circle cx="159.5" cy="244.5" r="3"/>
<circle cx="215.5" cy="231.5" r="3"/>
<circle cx="142.5" cy="247.5" r="3"/>
<circle cx="512.5" cy="199.5" r="3"/>
<circle cx="464.5" cy="202.5" r="3"/>
<circle cx="575.5" cy="200.5" r="3"/>
<circle cx="558.5" cy="199.5" r="3"/>
<circle cx="482.5" cy="200.5" r="3"/>
<circle cx="535.5" cy="199.5" r="3"/>
<circle cx="277.5" cy="219.5" r="3"/>
<circle cx="544.5" cy="199.5" r="3"/>
<circle cx="186.5" cy="238.5" r="3"/>
<circle cx="142.5" cy="248.5" r="3"/>
<circle cx="497.5" cy="200.5" r="3"/>
<circle cx="168.5" cy="241.5" r="3"/>
<circle cx="147.5" cy="247.5" r="3"/>
<circle cx="485.5" cy="200.5" r="3"/>
<circle cx="148.5" cy="247.5" r="3"/>
<circle cx="577.5" cy="200.5" r="3"/>
<circle cx="322.5" cy="210.5" r="3"/>
<circle cx="226.5" cy="229.5" r="3"/>
<circle cx="504.5" cy="199.5" r="3"/>
<circle cx="161.5" cy="244.5" r="3"/>
<circle cx="145.5" cy="248.5" r="3"/>
<circle cx="158.5" cy="244.5" r="3"/>
<circle cx="596.5" cy="198.5" r="3"/>
<circle cx="135.5" cy="250.5" r="3"/>
<circle cx="494.5" cy="200.5" r="3"/>
<circle cx="536.5" cy="199.5" r="3"/>
<circle cx="454.5" cy="202.5" r="3"/>
<circle cx="490.5" cy="200.5" r="3"/>
<circle cx="483.5" cy="200.5" r="3"/>
<circle cx="362.5" cy="207.5" r="3"/>
<circle cx="414.5" cy="202.5" r="3"/>
<circle cx="379.5" cy="204.5" r="3"/>
<circle cx="595.5" cy="198.5" r="3"/>
<circle cx="601.5" cy="196.5" r="3"/>
<circle cx="412.5" cy="202.5" r="3"/>
<circle cx="214.5" cy="232.5" r="3"/>
<circle cx="295.5" cy="215.5" r="3"/>
<circle cx="235.5" cy="227.5" r="3"/>
<circle cx="500.5" cy="200.5" r="3"/>
<circle cx="292.5" cy="217.5" r="3"/>
<circle cx="146.5" cy="247.5" r="3"/>
<circle cx="161.5" cy="243.5" r="3"/>
<circle cx="491.5" cy="200.5" r="3"/>
<circle cx="134.5" cy="250.5" r="3"/>
<circle cx="372.5" cy="205.5" r="3"/>
<circle cx="457.5" cy="202.5" r="3"/>
<circle cx="521.5" cy="199.5" r="3"/>
<circle cx="509.5" cy="199.5" r="3"/>
<circle cx="440.5" cy="202.5" r="3"/>
<circle cx="583.5" cy="199.5" r="3"/>
<circle cx="159.5" cy="243.5" r="3"/>
<circle cx="132.5" cy="250.5" r="3"/>
<circle cx="171.5" cy="240.5" r="3"/>
<circle cx="489.5" cy="200.5" r="3"/>
<circle cx="593.5" cy="198.5" r="3"/>
<circle cx="402.5" cy="202.5" r="3"/>
<circle cx="549.5" cy="199.5" r="3"/>
<circle cx="552.5" cy="200.5" r="3"/>
<circle cx="501.5" cy="200.5" r="3"/>
<circle cx="160.5" cy="243.5" r="3"/>
<circle cx="153.5" cy="245.5" r="3"/>
<circle cx="540.5" cy="200.5" r="3"/>
<circle cx="430.5" cy="202.5" r="3"/>
<circle cx="157.5" cy="244.5" r="3"/>
<circle cx="410.5" cy="202.5" r="3"/>
<circle cx="591.5" cy="199.5" r="3"/>
<circle cx="138.5" cy="247.5" r="3"/>
<circle cx="164.5" cy="242.5" r="3"/>
<circle cx="139.5" cy="248.5" r="3"/>
<circle cx="484.5" cy="200.5" r="3"/>
<circle cx="160.5" cy="244.5" r="3"/>
<circle cx="560.5" cy="199.5" r="3"/>
<circle cx="571.5" cy="200.5" r="3"/>
<circle cx="405.5" cy="202.5" r="3"/>
<circle cx="152.5" cy="245.5" r="3"/>
<circle cx="144.5" cy="246.5" r="3"/>
<circle cx="207.5" cy="234.5" r="3"/>
<circle cx="391.5" cy="203.5" r="3"/>
<circle cx="145.5" cy="247.5" r="3"/>
<circle cx="141.5" cy="247.5" r="3"/>
<circle cx="175.5" cy="241.5" r="3"/>
<circle cx="429.5" cy="202.5" r="3"/>
<circle cx="150.5" cy="246.5" r="3"/>
<circle cx="437.5" cy="203.5" r="3"/>
<circle cx="399.5" cy="203.5" r="3"/>
<circle cx="169.5" cy="240.5" r="3"/>
<circle cx="138.5" cy="250.5" r="3"/>
<circle cx="524.5" cy="199.5" r="3"/>
<circle cx="415.5" cy="202.5" r="3"/>
<circle cx="423.5" cy="202.5" r="3"/>
<circle cx="496.5" cy="200.5" r="3"/>
<circle cx="452.5" cy="202.5" r="3"/>
<circle cx="481.5" cy="200.5" r="3"/>
<circle cx="578.5" cy="199.5" r="3"/>
<circle cx="136.5" cy="250.5" r="3"/>
<circle cx="137.5" cy="249.5" r="3"/>
<circle cx="138.5" cy="248.5" r="3"/>
<circle cx="492.5" cy="200.5" r="3"/>
<circle cx="163.5" cy="243.5" r="3"/>
<circle cx="287.5" cy="217.5" r="3"/>
<circle cx="400.5" cy="203.5" r="3"/>
<circle cx="135.5" cy="249.5" r="3"/>
<circle cx="148.5" cy="248.5" r="3"/>
<circle cx="517.5" cy="199.5" r="3"/>
<circle cx="162.5" cy="242.5" r="3"/>
<circle cx="562.5" cy="200.5" r="3"/>
<circle cx="531.5" cy="200.5" r="3"/>
<circle cx="502.5" cy="199.5" r="3"/>
<circle cx="465.5" cy="202.5" r="3"/>
<circle cx="311.5" cy="212.5" r="3"/>
<circle cx="588.5" cy="199.5" r="3"/>
<circle cx="143.5" cy="246.5" r="3"/>
<circle cx="441.5" cy="202.5" r="3"/>
<circle cx="495.5" cy="200.5" r="3"/>
<circle cx="573.5" cy="199.5" r="3"/>
<circle cx="420.5" cy="202.5" r="3"/>
<circle cx="139.5" cy="249.5" r="3"/>
<circle cx="180.5" cy="239.5" r="3"/>
<circle cx="383.5" cy="204.5" r="3"/>
<circle cx="141.5" cy="248.5" r="3"/>
<circle cx="153.5" cy="243.5" r="3"/>
<circle cx="308.5" cy="213.5" r="3"/>
<circle cx="580.5" cy="200.5" r="3"/>
<circle cx="150.5" cy="245.5" r="3"/>
<circle cx="527.5" cy="199.5" r="3"/>
<circle cx="529.5" cy="199.5" r="3"/>
<circle cx="165.5" cy="241.5" r="3"/>
<circle cx="566.5" cy="199.5" r="3"/>
<circle cx="503.5" cy="200.5" r="3"/>
<circle cx="450.5" cy="202.5" r="3"/>
<circle cx="519.5" cy="199.5" r="3"/>
<circle cx="432.5" cy="202.5" r="3"/>
<circle cx="154.5" cy="245.5" r="3"/>
<circle cx="568.5" cy="200.5" r="3"/>
</g>
<g stroke="#00FF66">
<circle cx="435.5" cy="97.5" r="3"/>
<circle cx="169.5" cy="154.5" r="3"/>
<circle cx="418.5" cy="96.5" r="3"/>
<circle cx="160.5" cy="129.5" r="3"/>
<circle cx="178.5" cy="115.5" r="3"/>
<circle cx="351.5" cy="90.5" r="3"/>
<circle cx="165.5" cy="149.5" r="3"/>
<circle cx="385.5" cy="92.5" r="3"/>
<circle cx="460.5" cy="101.5" r="3"/>
<circle cx="394.5" cy="93.5" r="3"/>
<circle cx="429.5" cy="98.5" r="3"/>
<circle cx="165.5" cy="123.5" r="3"/>
<circle cx="175.5" cy="163.5" r="3"/>
<circle cx="163.5" cy="124.5" r="3"/>
<circle cx="437.5" cy="97.5" r="3"/>
<circle cx="454.5" cy="101.5" r="3"/>
<circle cx="189.5" cy="111.5" r="3"/>
<circle cx="178.5" cy="168.5" r="3"/>
<circle cx="483.5" cy="105.5" r="3"/>
<circle cx="175.5" cy="117.5" r="3"/>
<circle cx="432.5" cy="97.5" r="3"/>
<circle cx="180.5" cy="173.5" r="3"/>
<circle cx="191.5" cy="109.5" r="3"/>
<circle cx="174.5" cy="117.5" r="3"/>
<circle cx="346.5" cy="90.5" r="3"/>
<circle cx="198.5" cy="106.5" r="3"/>
<circle cx="162.5" cy="144.5" r="3"/>
<circle cx="187.5" cy="111.5" r="3"/>
<circle cx="488.5" cy="107.5" r="3"/>
<circle cx="216.5" cy="101.5" r="3"/>
<circle cx="504.5" cy="108.5" r="3"/>
<circle cx="353.5" cy="90.5" r="3"/>
<circle cx="468.5" cy="103.5" r="3"/>
<circle cx="159.5" cy="137.5" r="3"/>
<circle cx="180.5" cy="172.5" r="3"/>
<circle cx="462.5" cy="102.5" r="3"/>
<circle cx="159.5" cy="135.5" r="3"/>
<circle cx="412.5" cy="96.5" r="3"/>
<circle cx="158.5" cy="134.5" r="3"/>
<circle cx="173.5" cy="160.5" r="3"/>
<circle cx="295.5" cy="90.5" r="3"/>
<circle cx="164.5" cy="147.5" r="3"/>
<circle cx="264.5" cy="91.5" r="3"/>
<circle cx="341.5" cy="90.5" r="3"/>
<circle cx="498.5" cy="108.5" r="3"/>
<circle cx="185.5" cy="112.5" r="3"/>
<circle cx="453.5" cy="100.5" r="3"/>
<circle cx="280.5" cy="90.5" r="3"/>
<circle cx="300.5" cy="89.5" r="3"/>
<circle cx="173.5" cy="118.5" r="3"/>
<circle cx="510.5" cy="109.5" r="3"/>
<circle cx="174.5" cy="162.5" r="3"/>
<circle cx="404.5" cy="95.5" r="3"/>
<circle cx="182.5" cy="114.5" r="3"/>
<circle cx="159.5" cy="130.5" r="3"/>
<circle cx="160.5" cy="140.5" r="3"/>
<circle cx="166.5" cy="150.5" r="3"/>
<circle cx="195.5" cy="108.5" r="3"/>
<circle cx="364.5" cy="91.5" r="3"/>
<circle cx="409.5" cy="95.5" r="3"/>
<circle cx="334.5" cy="90.5" r="3"/>
<circle cx="178.5" cy="116.5" r="3"/>
<circle cx="199.5" cy="106.5" r="3"/>
<circle cx="170.5" cy="120.5" r="3"/>
<circle cx="362.5" cy="91.5" r="3"/>
<circle cx="184.5" cy="113.5" r="3"/>
<circle cx="183.5" cy="113.5" r="3"/>
<circle cx="355.5" cy="90.5" r="3"/>
<circle cx="268.5" cy="91.5" r="3"/>
<circle cx="204.5" cy="104.5" r="3"/>
<circle cx="173.5" cy="117.5" r="3"/>
<circle cx="181.5" cy="114.5" r="3"/>
<circle cx="470.5" cy="103.5" r="3"/>
<circle cx="441.5" cy="98.5" r="3"/>
<circle cx="311.5" cy="90.5" r="3"/>
<circle cx="496.5" cy="106.5" r="3"/>
<circle cx="169.5" cy="121.5" r="3"/>
<circle cx="178.5" cy="169.5" r="3"/>
<circle cx="480.5" cy="106.5" r="3"/>
<circle cx="217.5" cy="100.5" r="3"/>
<circle cx="184.5" cy="178.5" r="3"/>
<circle cx="182.5" cy="174.5" r="3"/>
<circle cx="160.5" cy="142.5" r="3"/>
<circle cx="164.5" cy="148.5" r="3"/>
<circle cx="439.5" cy="98.5" r="3"/>
<circle cx="266.5" cy="91.5" r="3"/>
<circle cx="176.5" cy="165.5" r="3"/>
<circle cx="230.5" cy="96.5" r="3"/>
<circle cx="162.5" cy="145.5" r="3"/>
<circle cx="177.5" cy="167.5" r="3"/>
<circle cx="159.5" cy="136.5" r="3"/>
<circle cx="172.5" cy="159.5" r="3"/>
<circle cx="423.5" cy="96.5" r="3"/>
<circle cx="287.5" cy="90.5" r="3"/>
<circle cx="166.5" cy="122.5" r="3"/>
<circle cx="167.5" cy="122.5" r="3"/>
<circle cx="163.5" cy="146.5" r="3"/>
<circle cx="503.5" cy="108.5" r="3"/>
<circle cx="494.5" cy="107.5" r="3"/>
<circle cx="231.5" cy="96.5" r="3"/>
<circle cx="202.5" cy="105.5" r="3"/>
<circle cx="292.5" cy="90.5" r="3"/>
<circle cx="492.5" cy="107.5" r="3"/>
<circle cx="246.5" cy="94.5" r="3"/>
<circle cx="477.5" cy="106.5" r="3"/>
<circle cx="476.5" cy="105.5" r="3"/>
<circle cx="167.5" cy="151.5" r="3"/>
<circle cx="182.5" cy="175.5" r="3"/>
<circle cx="207.5" cy="104.5" r="3"/>
<circle cx="174.5" cy="118.5" r="3"/>
<circle cx="183.5" cy="176.5" r="3"/>
<circle cx="171.5" cy="158.5" r="3"/>
<circle cx="167.5" cy="152.5" r="3"/>
<circle cx="223.5" cy="99.5" r="3"/>
<circle cx="161.5" cy="142.5" r="3"/>
<circle cx="159.5" cy="129.5" r="3"/>
<circle cx="419.5" cy="96.5" r="3"/>
<circle cx="161.5" cy="143.5" r="3"/>
<circle cx="164.5" cy="124.5" r="3"/>
<circle cx="165.5" cy="148.5" r="3"/>
<circle cx="424.5" cy="96.5" r="3"/>
<circle cx="179.5" cy="115.5" r="3"/>
<circle cx="234.5" cy="95.5" r="3"/>
<circle cx="388.5" cy="92.5" r="3"/>
<circle cx="240.5" cy="94.5" r="3"/>
<circle cx="306.5" cy="90.5" r="3"/>
<circle cx="309.5" cy="90.5" r="3"/>
<circle cx="411.5" cy="95.5" r="3"/>
<circle cx="381.5" cy="91.5" r="3"/>
<circle cx="173.5" cy="161.5" r="3"/>
<circle cx="373.5" cy="91.5" r="3"/>
<circle cx="427.5" cy="97.5" r="3"/>
<circle cx="168.5" cy="152.5" r="3"/>
<circle cx="324.5" cy="90.5" r="3"/>
<circle cx="393.5" cy="93.5" r="3"/>
<circle cx="285.5" cy="90.5" r="3"/>
<circle cx="179.5" cy="170.5" r="3"/>
<circle cx="301.5" cy="90.5" r="3"/>
<circle cx="366.5" cy="91.5" r="3"/>
<circle cx="159.5" cy="131.5" r="3"/>
<circle cx="220.5" cy="99.5" r="3"/>
<circle cx="444.5" cy="99.5" r="3"/>
<circle cx="211.5" cy="102.5" r="3"/>
<circle cx="158.5" cy="133.5" r="3"/>
<circle cx="368.5" cy="91.5" r="3"/>
<circle cx="325.5" cy="89.5" r="3"/>
<circle cx="502.5" cy="108.5" r="3"/>
<circle cx="182.5" cy="113.5" r="3"/>
<circle cx="274.5" cy="90.5" r="3"/>
<circle cx="314.5" cy="90.5" r="3"/>
<circle cx="171.5" cy="119.5" r="3"/>
<circle cx="192.5" cy="109.5" r="3"/>
<circle cx="270.5" cy="90.5" r="3"/>
<circle cx="472.5" cy="105.5" r="3"/>
<circle cx="203.5" cy="105.5" r="3"/>
<circle cx="163.5" cy="145.5" r="3"/>
<circle cx="176.5" cy="166.5" r="3"/>
<circle cx="209.5" cy="103.5" r="3"/>
<circle cx="176.5" cy="116.5" r="3"/>
<circle cx="168.5" cy="121.5" r="3"/>
<circle cx="177.5" cy="166.5" r="3"/>
<circle cx="184.5" cy="177.5" r="3"/>
<circle cx="319.5" cy="90.5" r="3"/>
<circle cx="205.5" cy="104.5" r="3"/>
<circle cx="308.5" cy="90.5" r="3"/>
<circle cx="389.5" cy="93.5" r="3"/>
<circle cx="190.5" cy="110.5" r="3"/>
<circle cx="162.5" cy="126.5" r="3"/>
<circle cx="181.5" cy="173.5" r="3"/>
<circle cx="450.5" cy="100.5" r="3"/>
<circle cx="195.5" cy="107.5" r="3"/>
<circle cx="448.5" cy="99.5" r="3"/>
<circle cx="487.5" cy="106.5" r="3"/>
<circle cx="337.5" cy="90.5" r="3"/>
<circle cx="446.5" cy="99.5" r="3"/>
<circle cx="177.5" cy="116.5" r="3"/>
<circle cx="251.5" cy="93.5" r="3"/>
<circle cx="348.5" cy="90.5" r="3"/>
<circle cx="262.5" cy="92.5" r="3"/>
<circle cx="457.5" cy="101.5" r="3"/>
<circle cx="456.5" cy="100.5" r="3"/>
<circle cx="227.5" cy="98.5" r="3"/>
<circle cx="350.5" cy="90.5" r="3"/>
<circle cx="170.5" cy="156.5" r="3"/>
<circle cx="169.5" cy="155.5" r="3"/>
<circle cx="327.5" cy="90.5" r="3"/>
<circle cx="465.5" cy="103.5" r="3"/>
<circle cx="338.5" cy="90.5" r="3"/>
<circle cx="360.5" cy="90.5" r="3"/>
<circle cx="162.5" cy="125.5" r="3"/>
<circle cx="506.5" cy="109.5" r="3"/>
<circle cx="271.5" cy="90.5" r="3"/>
<circle cx="176.5" cy="164.5" r="3"/>
<circle cx="168.5" cy="153.5" r="3"/>
<circle cx="371.5" cy="92.5" r="3"/>
<circle cx="258.5" cy="91.5" r="3"/>
<circle cx="345.5" cy="90.5" r="3"/>
<circle cx="276.5" cy="90.5" r="3"/>
<circle cx="160.5" cy="128.5" r="3"/>
<circle cx="235.5" cy="95.5" r="3"/>
<circle cx="159.5" cy="138.5" r="3"/>
<circle cx="158.5" cy="132.5" r="3"/>
<circle cx="224.5" cy="98.5" r="3"/>
<circle cx="200.5" cy="106.5" r="3"/>
<circle cx="466.5" cy="103.5" r="3"/>
<circle cx="374.5" cy="92.5" r="3"/>
<circle cx="330.5" cy="89.5" r="3"/>
<circle cx="249.5" cy="93.5" r="3"/>
<circle cx="463.5" cy="102.5" r="3"/>
<circle cx="172.5" cy="119.5" r="3"/>
<circle cx="214.5" cy="102.5" r="3"/>
<circle cx="474.5" cy="103.5" r="3"/>
<circle cx="491.5" cy="106.5" r="3"/>
<circle cx="162.5" cy="143.5" r="3"/>
<circle cx="278.5" cy="91.5" r="3"/>
<circle cx="508.5" cy="109.5" r="3"/>
<circle cx="167.5" cy="121.5" r="3"/>
<circle cx="482.5" cy="104.5" r="3"/>
<circle cx="186.5" cy="112.5" r="3"/>
<circle cx="180.5" cy="171.5" r="3"/>
<circle cx="398.5" cy="94.5" r="3"/>
<circle cx="176.5" cy="117.5" r="3"/>
<circle cx="402.5" cy="94.5" r="3"/>
<circle cx="180.5" cy="115.5" r="3"/>
<circle cx="160.5" cy="141.5" r="3"/>
<circle cx="172.5" cy="118.5" r="3"/>
<circle cx="399.5" cy="94.5" r="3"/>
<circle cx="238.5" cy="95.5" r="3"/>
<circle cx="175.5" cy="164.5" r="3"/>
<circle cx="485.5" cy="105.5" r="3"/>
<circle cx="273.5" cy="90.5" r="3"/>
<circle cx="194.5" cy="108.5" r="3"/>
<circle cx="495.5" cy="105.5" r="3"/>
<circle cx="161.5" cy="127.5" r="3"/>
<circle cx="500.5" cy="107.5" r="3"/>
<circle cx="284.5" cy="90.5" r="3"/>
<circle cx="414.5" cy="96.5" r="3"/>
<circle cx="339.5" cy="90.5" r="3"/>
<circle cx="378.5" cy="92.5" r="3"/>
<circle cx="159.5" cy="139.5" r="3"/>
<circle cx="193.5" cy="109.5" r="3"/>
<circle cx="228.5" cy="97.5" r="3"/>
<circle cx="433.5" cy="97.5" r="3"/>
<circle cx="281.5" cy="90.5" r="3"/>
<circle cx="443.5" cy="98.5" r="3"/>
<circle cx="160.5" cy="127.5" r="3"/>
<circle cx="459.5" cy="102.5" r="3"/>
<circle cx="242.5" cy="95.5" r="3"/>
<circle cx="197.5" cy="107.5" r="3"/>
<circle cx="158.5" cy="135.5" r="3"/>
<circle cx="181.5" cy="172.5" r="3"/>
<circle cx="188.5" cy="111.5" r="3"/>
<circle cx="171.5" cy="157.5" r="3"/>
</g>
<g stroke="#0066FF">
<circle cx="375.5" cy="341.5" r="3"/>
<circle cx="341.5" cy="344.5" r="3"/>
<circle cx="540.5" cy="317.5" r="3"/>
<circle cx="203.5" cy="274.5" r="3"/>
<circle cx="409.5" cy="335.5" r="3"/>
<circle cx="345.5" cy="344.5" r="3"/>
<circle cx="208.5" cy="324.5" r="3"/>
<circle cx="199.5" cy="286.5" r="3"/>
<circle cx="243.5" cy="337.5" r="3"/>
<circle cx="199.5" cy="312.5" r="3"/>
<circle cx="240.5" cy="337.5" r="3"/>
<circle cx="205.5" cy="272.5" r="3"/>
<circle cx="208.5" cy="325.5" r="3"/>
<circle cx="487.5" cy="327.5" r="3"/>
<circle cx="355.5" cy="343.5" r="3"/>
<circle cx="322.5" cy="345.5" r="3"/>
<circle cx="523.5" cy="323.5" r="3"/>
<circle cx="536.5" cy="319.5" r="3"/>
<circle cx="328.5" cy="345.5" r="3"/>
<circle cx="224.5" cy="333.5" r="3"/>
<circle cx="202.5" cy="276.5" r="3"/>
<circle cx="216.5" cy="329.5" r="3"/>
<circle cx="198.5" cy="308.5" r="3"/>
<circle cx="205.5" cy="322.5" r="3"/>
<circle cx="200.5" cy="314.5" r="3"/>
<circle cx="530.5" cy="321.5" r="3"/>
<circle cx="219.5" cy="330.5" r="3"/>
<circle cx="199.5" cy="282.5" r="3"/>
<circle cx="197.5" cy="293.5" r="3"/>
<circle cx="326.5" cy="345.5" r="3"/>
<circle cx="495.5" cy="326.5" r="3"/>
<circle cx="200.5" cy="315.5" r="3"/>
<circle cx="430.5" cy="333.5" r="3"/>
<circle cx="313.5" cy="345.5" r="3"/>
<circle cx="198.5" cy="292.5" r="3"/>
<circle cx="196.5" cy="294.5" r="3"/>
<circle cx="204.5" cy="273.5" r="3"/>
<circle cx="293.5" cy="343.5" r="3"/>
<circle cx="256.5" cy="339.5" r="3"/>
<circle cx="198.5" cy="305.5" r="3"/>
<circle cx="232.5" cy="334.5" r="3"/>
<circle cx="305.5" cy="345.5" r="3"/>
<circle cx="200.5" cy="279.5" r="3"/>
<circle cx="202.5" cy="319.5" r="3"/>
<circle cx="200.5" cy="313.5" r="3"/>
<circle cx="354.5" cy="343.5" r="3"/>
<circle cx="197.5" cy="301.5" r="3"/>
<circle cx="230.5" cy="334.5" r="3"/>
<circle cx="400.5" cy="337.5" r="3"/>
<circle cx="197.5" cy="299.5" r="3"/>
<circle cx="291.5" cy="344.5" r="3"/>
<circle cx="199.5" cy="283.5" r="3"/>
<circle cx="511.5" cy="325.5" r="3"/>
<circle cx="506.5" cy="326.5" r="3"/>
<circle cx="546.5" cy="315.5" r="3"/>
<circle cx="324.5" cy="345.5" r="3"/>
<circle cx="202.5" cy="318.5" r="3"/>
<circle cx="265.5" cy="341.5" r="3"/>
<circle cx="385.5" cy="340.5" r="3"/>
<circle cx="380.5" cy="341.5" r="3"/>
<circle cx="414.5" cy="335.5" r="3"/>
<circle cx="206.5" cy="323.5" r="3"/>
<circle cx="359.5" cy="343.5" r="3"/>
<circle cx="295.5" cy="344.5" r="3"/>
<circle cx="397.5" cy="338.5" r="3"/>
<circle cx="267.5" cy="341.5" r="3"/>
<circle cx="544.5" cy="315.5" r="3"/>
<circle cx="198.5" cy="289.5" r="3"/>
<circle cx="234.5" cy="335.5" r="3"/>
<circle cx="336.5" cy="345.5" r="3"/>
<circle cx="218.5" cy="330.5" r="3"/>
<circle cx="458.5" cy="328.5" r="3"/>
<circle cx="198.5" cy="311.5" r="3"/>
<circle cx="296.5" cy="344.5" r="3"/>
<circle cx="491.5" cy="327.5" r="3"/>
<circle cx="197.5" cy="296.5" r="3"/>
<circle cx="236.5" cy="335.5" r="3"/>
<circle cx="289.5" cy="344.5" r="3"/>
<circle cx="565.5" cy="308.5" r="3"/>
<circle cx="429.5" cy="334.5" r="3"/>
<circle cx="281.5" cy="342.5" r="3"/>
<circle cx="199.5" cy="280.5" r="3"/>
<circle cx="556.5" cy="311.5" r="3"/>
<circle cx="496.5" cy="327.5" r="3"/>
<circle cx="524.5" cy="323.5" r="3"/>
<circle cx="197.5" cy="297.5" r="3"/>
<circle cx="198.5" cy="287.5" r="3"/>
<circle cx="481.5" cy="327.5" r="3"/>
<circle cx="509.5" cy="326.5" r="3"/>
<circle cx="198.5" cy="290.5" r="3"/>
<circle cx="418.5" cy="334.5" r="3"/>
<circle cx="197.5" cy="300.5" r="3"/>
<circle cx="199.5" cy="281.5" r="3"/>
<circle cx="198.5" cy="309.5" r="3"/>
<circle cx="260.5" cy="340.5" r="3"/>
<circle cx="283.5" cy="343.5" r="3"/>
<circle cx="263.5" cy="340.5" r="3"/>
<circle cx="413.5" cy="335.5" r="3"/>
<circle cx="197.5" cy="302.5" r="3"/>
<circle cx="314.5" cy="345.5" r="3"/>
<circle cx="201.5" cy="316.5" r="3"/>
<circle cx="201.5" cy="317.5" r="3"/>
<circle cx="269.5" cy="341.5" r="3"/>
<circle cx="557.5" cy="311.5" r="3"/>
<circle cx="259.5" cy="340.5" r="3"/>
<circle cx="554.5" cy="312.5" r="3"/>
<circle cx="202.5" cy="275.5" r="3"/>
<circle cx="197.5" cy="303.5" r="3"/>
<circle cx="347.5" cy="344.5" r="3"/>
<circle cx="472.5" cy="327.5" r="3"/>
<circle cx="427.5" cy="334.5" r="3"/>
<circle cx="249.5" cy="338.5" r="3"/>
<circle cx="201.5" cy="278.5" r="3"/>
<circle cx="318.5" cy="345.5" r="3"/>
<circle cx="197.5" cy="295.5" r="3"/>
<circle cx="369.5" cy="342.5" r="3"/>
<circle cx="551.5" cy="313.5" r="3"/>
<circle cx="302.5" cy="344.5" r="3"/>
<circle cx="212.5" cy="327.5" r="3"/>
<circle cx="502.5" cy="327.5" r="3"/>
<circle cx="382.5" cy="341.5" r="3"/>
<circle cx="571.5" cy="305.5" r="3"/>
<circle cx="348.5" cy="344.5" r="3"/>
<circle cx="553.5" cy="313.5" r="3"/>
<circle cx="443.5" cy="330.5" r="3"/>
<circle cx="467.5" cy="328.5" r="3"/>
<circle cx="197.5" cy="294.5" r="3"/>
<circle cx="203.5" cy="319.5" r="3"/>
<circle cx="550.5" cy="313.5" r="3"/>
<circle cx="198.5" cy="306.5" r="3"/>
<circle cx="213.5" cy="328.5" r="3"/>
<circle cx="215.5" cy="328.5" r="3"/>
<circle cx="460.5" cy="328.5" r="3"/>
<circle cx="222.5" cy="331.5" r="3"/>
<circle cx="251.5" cy="339.5" r="3"/>
<circle cx="563.5" cy="309.5" r="3"/>
<circle cx="343.5" cy="344.5" r="3"/>
<circle cx="277.5" cy="342.5" r="3"/>
<circle cx="465.5" cy="328.5" r="3"/>
<circle cx="198.5" cy="301.5" r="3"/>
<circle cx="338.5" cy="344.5" r="3"/>
<circle cx="211.5" cy="327.5" r="3"/>
<circle cx="425.5" cy="334.5" r="3"/>
<circle cx="537.5" cy="318.5" r="3"/>
<circle cx="399.5" cy="338.5" r="3"/>
<circle cx="543.5" cy="316.5" r="3"/>
<circle cx="568.5" cy="306.5" r="3"/>
<circle cx="474.5" cy="327.5" r="3"/>
<circle cx="207.5" cy="323.5" r="3"/>
<circle cx="317.5" cy="344.5" r="3"/>
<circle cx="217.5" cy="330.5" r="3"/>
<circle cx="287.5" cy="343.5" r="3"/>
<circle cx="558.5" cy="311.5" r="3"/>
<circle cx="358.5" cy="342.5" r="3"/>
<circle cx="549.5" cy="314.5" r="3"/>
<circle cx="407.5" cy="336.5" r="3"/>
<circle cx="229.5" cy="334.5" r="3"/>
<circle cx="559.5" cy="310.5" r="3"/>
<circle cx="202.5" cy="317.5" r="3"/>
<circle cx="200.5" cy="280.5" r="3"/>
<circle cx="198.5" cy="291.5" r="3"/>
<circle cx="272.5" cy="342.5" r="3"/>
<circle cx="239.5" cy="336.5" r="3"/>
<circle cx="434.5" cy="332.5" r="3"/>
<circle cx="547.5" cy="314.5" r="3"/>
<circle cx="226.5" cy="333.5" r="3"/>
<circle cx="542.5" cy="317.5" r="3"/>
<circle cx="204.5" cy="321.5" r="3"/>
<circle cx="209.5" cy="325.5" r="3"/>
<circle cx="198.5" cy="298.5" r="3"/>
<circle cx="560.5" cy="310.5" r="3"/>
<circle cx="520.5" cy="323.5" r="3"/>
<circle cx="223.5" cy="332.5" r="3"/>
<circle cx="205.5" cy="271.5" r="3"/>
<circle cx="420.5" cy="334.5" r="3"/>
<circle cx="512.5" cy="324.5" r="3"/>
<circle cx="199.5" cy="284.5" r="3"/>
<circle cx="534.5" cy="320.5" r="3"/>
<circle cx="285.5" cy="343.5" r="3"/>
<circle cx="307.5" cy="345.5" r="3"/>
<circle cx="447.5" cy="330.5" r="3"/>
<circle cx="566.5" cy="307.5" r="3"/>
<circle cx="475.5" cy="327.5" r="3"/>
<circle cx="402.5" cy="337.5" r="3"/>
<circle cx="395.5" cy="339.5" r="3"/>
<circle cx="392.5" cy="340.5" r="3"/>
<circle cx="569.5" cy="305.5" r="3"/>
<circle cx="441.5" cy="331.5" r="3"/>
<circle cx="403.5" cy="337.5" r="3"/>
<circle cx="484.5" cy="327.5" r="3"/>
<circle cx="390.5" cy="339.5" r="3"/>
<circle cx="197.5" cy="304.5" r="3"/>
<circle cx="202.5" cy="277.5" r="3"/>
<circle cx="199.5" cy="285.5" r="3"/>
<circle cx="352.5" cy="343.5" r="3"/>
<circle cx="203.5" cy="273.5" r="3"/>
<circle cx="298.5" cy="343.5" r="3"/>
<circle cx="504.5" cy="326.5" r="3"/>
<circle cx="362.5" cy="342.5" r="3"/>
<circle cx="197.5" cy="298.5" r="3"/>
<circle cx="279.5" cy="342.5" r="3"/>
<circle cx="570.5" cy="305.5" r="3"/>
<circle cx="311.5" cy="345.5" r="3"/>
<circle cx="228.5" cy="333.5" r="3"/>
<circle cx="299.5" cy="344.5" r="3"/>
<circle cx="198.5" cy="307.5" r="3"/>
<circle cx="456.5" cy="329.5" r="3"/>
<circle cx="368.5" cy="342.5" r="3"/>
<circle cx="332.5" cy="345.5" r="3"/>
<circle cx="210.5" cy="326.5" r="3"/>
<circle cx="462.5" cy="328.5" r="3"/>
<circle cx="439.5" cy="331.5" r="3"/>
<circle cx="423.5" cy="334.5" r="3"/>
<circle cx="198.5" cy="310.5" r="3"/>
<circle cx="450.5" cy="329.5" r="3"/>
<circle cx="203.5" cy="320.5" r="3"/>
<circle cx="248.5" cy="338.5" r="3"/>
<circle cx="201.5" cy="318.5" r="3"/>
<circle cx="198.5" cy="288.5" r="3"/>
</g>
<g stroke="#3300FF">
<circle cx="362.5" cy="238.5" r="3"/>
<circle cx="477.5" cy="227.5" r="3"/>
<circle cx="291.5" cy="237.5" r="3"/>
<circle cx="281.5" cy="236.5" r="3"/>
<circle cx="282.5" cy="235.5" r="3"/>
<circle cx="292.5" cy="238.5" r="3"/>
<circle cx="270.5" cy="235.5" r="3"/>
<circle cx="316.5" cy="239.5" r="3"/>
<circle cx="324.5" cy="240.5" r="3"/>
<circle cx="586.5" cy="210.5" r="3"/>
<circle cx="285.5" cy="237.5" r="3"/>
<circle cx="535.5" cy="218.5" r="3"/>
<circle cx="273.5" cy="235.5" r="3"/>
<circle cx="589.5" cy="211.5" r="3"/>
<circle cx="537.5" cy="218.5" r="3"/>
<circle cx="569.5" cy="214.5" r="3"/>
<circle cx="280.5" cy="236.5" r="3"/>
<circle cx="284.5" cy="236.5" r="3"/>
<circle cx="369.5" cy="238.5" r="3"/>
<circle cx="334.5" cy="239.5" r="3"/>
<circle cx="275.5" cy="235.5" r="3"/>
<circle cx="292.5" cy="237.5" r="3"/>
<circle cx="579.5" cy="212.5" r="3"/>
<circle cx="468.5" cy="227.5" r="3"/>
<circle cx="340.5" cy="240.5" r="3"/>
<circle cx="520.5" cy="220.5" r="3"/>
<circle cx="284.5" cy="235.5" r="3"/>
<circle cx="294.5" cy="239.5" r="3"/>
<circle cx="299.5" cy="237.5" r="3"/>
<circle cx="562.5" cy="215.5" r="3"/>
<circle cx="272.5" cy="234.5" r="3"/>
<circle cx="602.5" cy="212.5" r="3"/>
<circle cx="351.5" cy="239.5" r="3"/>
<circle cx="490.5" cy="225.5" r="3"/>
<circle cx="378.5" cy="237.5" r="3"/>
<circle cx="271.5" cy="235.5" r="3"/>
<circle cx="368.5" cy="238.5" r="3"/>
<circle cx="414.5" cy="233.5" r="3"/>
<circle cx="556.5" cy="216.5" r="3"/>
<circle cx="345.5" cy="239.5" r="3"/>
<circle cx="274.5" cy="235.5" r="3"/>
<circle cx="404.5" cy="234.5" r="3"/>
<circle cx="500.5" cy="225.5" r="3"/>
<circle cx="312.5" cy="239.5" r="3"/>
<circle cx="460.5" cy="228.5" r="3"/>
<circle cx="554.5" cy="217.5" r="3"/>
<circle cx="559.5" cy="216.5" r="3"/>
<circle cx="443.5" cy="230.5" r="3"/>
<circle cx="372.5" cy="237.5" r="3"/>
<circle cx="400.5" cy="234.5" r="3"/>
<circle cx="278.5" cy="236.5" r="3"/>
<circle cx="297.5" cy="238.5" r="3"/>
<circle cx="425.5" cy="232.5" r="3"/>
<circle cx="481.5" cy="226.5" r="3"/>
<circle cx="524.5" cy="220.5" r="3"/>
<circle cx="419.5" cy="233.5" r="3"/>
<circle cx="384.5" cy="236.5" r="3"/>
<circle cx="279.5" cy="235.5" r="3"/>
<circle cx="305.5" cy="239.5" r="3"/>
<circle cx="289.5" cy="237.5" r="3"/>
<circle cx="465.5" cy="228.5" r="3"/>
<circle cx="298.5" cy="238.5" r="3"/>
<circle cx="451.5" cy="229.5" r="3"/>
<circle cx="325.5" cy="239.5" r="3"/>
<circle cx="542.5" cy="217.5" r="3"/>
<circle cx="361.5" cy="238.5" r="3"/>
<circle cx="471.5" cy="227.5" r="3"/>
<circle cx="304.5" cy="238.5" r="3"/>
<circle cx="433.5" cy="231.5" r="3"/>
<circle cx="428.5" cy="232.5" r="3"/>
<circle cx="475.5" cy="227.5" r="3"/>
<circle cx="393.5" cy="235.5" r="3"/>
<circle cx="295.5" cy="238.5" r="3"/>
<circle cx="557.5" cy="216.5" r="3"/>
<circle cx="397.5" cy="235.5" r="3"/>
<circle cx="606.5" cy="214.5" r="3"/>
<circle cx="366.5" cy="238.5" r="3"/>
<circle cx="343.5" cy="239.5" r="3"/>
<circle cx="546.5" cy="217.5" r="3"/>
<circle cx="319.5" cy="239.5" r="3"/>
<circle cx="484.5" cy="226.5" r="3"/>
<circle cx="287.5" cy="237.5" r="3"/>
<circle cx="409.5" cy="233.5" r="3"/>
<circle cx="493.5" cy="225.5" r="3"/>
<circle cx="380.5" cy="236.5" r="3"/>
<circle cx="276.5" cy="235.5" r="3"/>
<circle cx="532.5" cy="219.5" r="3"/>
<circle cx="303.5" cy="238.5" r="3"/>
<circle cx="412.5" cy="233.5" r="3"/>
<circle cx="267.5" cy="234.5" r="3"/>
<circle cx="592.5" cy="211.5" r="3"/>
<circle cx="548.5" cy="217.5" r="3"/>
<circle cx="279.5" cy="237.5" r="3"/>
<circle cx="529.5" cy="219.5" r="3"/>
<circle cx="341.5" cy="240.5" r="3"/>
<circle cx="335.5" cy="239.5" r="3"/>
<circle cx="560.5" cy="215.5" r="3"/>
<circle cx="539.5" cy="218.5" r="3"/>
<circle cx="371.5" cy="238.5" r="3"/>
<circle cx="274.5" cy="236.5" r="3"/>
<circle cx="290.5" cy="238.5" r="3"/>
<circle cx="374.5" cy="238.5" r="3"/>
<circle cx="440.5" cy="231.5" r="3"/>
<circle cx="395.5" cy="234.5" r="3"/>
<circle cx="293.5" cy="238.5" r="3"/>
<circle cx="308.5" cy="239.5" r="3"/>
<circle cx="387.5" cy="236.5" r="3"/>
<circle cx="360.5" cy="238.5" r="3"/>
<circle cx="567.5" cy="214.5" r="3"/>
<circle cx="530.5" cy="219.5" r="3"/>
<circle cx="310.5" cy="239.5" r="3"/>
<circle cx="515.5" cy="221.5" r="3"/>
<circle cx="324.5" cy="239.5" r="3"/>
<circle cx="286.5" cy="237.5" r="3"/>
<circle cx="300.5" cy="239.5" r="3"/>
<circle cx="354.5" cy="239.5" r="3"/>
<circle cx="313.5" cy="239.5" r="3"/>
<circle cx="447.5" cy="229.5" r="3"/>
<circle cx="498.5" cy="224.5" r="3"/>
<circle cx="392.5" cy="235.5" r="3"/>
<circle cx="521.5" cy="220.5" r="3"/>
<circle cx="605.5" cy="215.5" r="3"/>
<circle cx="355.5" cy="238.5" r="3"/>
<circle cx="502.5" cy="224.5" r="3"/>
<circle cx="510.5" cy="222.5" r="3"/>
<circle cx="277.5" cy="236.5" r="3"/>
<circle cx="268.5" cy="234.5" r="3"/>
<circle cx="517.5" cy="220.5" r="3"/>
<circle cx="296.5" cy="237.5" r="3"/>
<circle cx="314.5" cy="239.5" r="3"/>
<circle cx="331.5" cy="239.5" r="3"/>
<circle cx="321.5" cy="239.5" r="3"/>
<circle cx="570.5" cy="213.5" r="3"/>
<circle cx="572.5" cy="212.5" r="3"/>
<circle cx="574.5" cy="212.5" r="3"/>
<circle cx="302.5" cy="239.5" r="3"/>
<circle cx="416.5" cy="233.5" r="3"/>
<circle cx="466.5" cy="227.5" r="3"/>
<circle cx="507.5" cy="223.5" r="3"/>
<circle cx="328.5" cy="240.5" r="3"/>
<circle cx="550.5" cy="217.5" r="3"/>
<circle cx="474.5" cy="227.5" r="3"/>
<circle cx="306.5" cy="239.5" r="3"/>
<circle cx="346.5" cy="239.5" r="3"/>
<circle cx="505.5" cy="223.5" r="3"/>
<circle cx="278.5" cy="237.5" r="3"/>
<circle cx="357.5" cy="238.5" r="3"/>
<circle cx="605.5" cy="216.5" r="3"/>
<circle cx="275.5" cy="236.5" r="3"/>
<circle cx="283.5" cy="236.5" r="3"/>
<circle cx="495.5" cy="225.5" r="3"/>
<circle cx="269.5" cy="235.5" r="3"/>
<circle cx="348.5" cy="239.5" r="3"/>
<circle cx="333.5" cy="240.5" r="3"/>
<circle cx="288.5" cy="237.5" r="3"/>
<circle cx="405.5" cy="234.5" r="3"/>
<circle cx="596.5" cy="210.5" r="3"/>
<circle cx="483.5" cy="226.5" r="3"/>
<circle cx="398.5" cy="235.5" r="3"/>
<circle cx="487.5" cy="225.5" r="3"/>
<circle cx="408.5" cy="233.5" r="3"/>
<circle cx="606.5" cy="212.5" r="3"/>
<circle cx="470.5" cy="227.5" r="3"/>
<circle cx="511.5" cy="222.5" r="3"/>
<circle cx="267.5" cy="235.5" r="3"/>
<circle cx="438.5" cy="230.5" r="3"/>
<circle cx="365.5" cy="238.5" r="3"/>
<circle cx="326.5" cy="240.5" r="3"/>
<circle cx="336.5" cy="239.5" r="3"/>
<circle cx="449.5" cy="229.5" r="3"/>
<circle cx="284.5" cy="237.5" r="3"/>
<circle cx="597.5" cy="212.5" r="3"/>
<circle cx="604.5" cy="212.5" r="3"/>
<circle cx="594.5" cy="211.5" r="3"/>
<circle cx="338.5" cy="240.5" r="3"/>
<circle cx="309.5" cy="239.5" r="3"/>
<circle cx="402.5" cy="234.5" r="3"/>
<circle cx="298.5" cy="239.5" r="3"/>
<circle cx="339.5" cy="239.5" r="3"/>
<circle cx="323.5" cy="239.5" r="3"/>
<circle cx="525.5" cy="219.5" r="3"/>
<circle cx="301.5" cy="238.5" r="3"/>
<circle cx="584.5" cy="211.5" r="3"/>
<circle cx="389.5" cy="236.5" r="3"/>
<circle cx="282.5" cy="236.5" r="3"/>
<circle cx="461.5" cy="228.5" r="3"/>
<circle cx="382.5" cy="237.5" r="3"/>
<circle cx="364.5" cy="238.5" r="3"/>
<circle cx="426.5" cy="231.5" r="3"/>
<circle cx="329.5" cy="240.5" r="3"/>
<circle cx="420.5" cy="232.5" r="3"/>
<circle cx="318.5" cy="239.5" r="3"/>
<circle cx="458.5" cy="228.5" r="3"/>
<circle cx="600.5" cy="211.5" r="3"/>
</g>
<g stroke="#00FFFF">
<circle cx="106.5" cy="183.5" r="3"/>
<circle cx="104.5" cy="184.5" r="3"/>
<circle cx="137.5" cy="166.5" r="3"/>
<circle cx="120.5" cy="209.5" r="3"/>
<circle cx="116.5" cy="177.5" r="3"/>
<circle cx="140.5" cy="210.5" r="3"/>
<circle cx="100.5" cy="194.5" r="3"/>
<circle cx="120.5" cy="175.5" r="3"/>
<circle cx="228.5" cy="120.5" r="3"/>
<circle cx="104.5" cy="185.5" r="3"/>
<circle cx="101.5" cy="199.5" r="3"/>
<circle cx="108.5" cy="182.5" r="3"/>
<circle cx="123.5" cy="174.5" r="3"/>
<circle cx="124.5" cy="173.5" r="3"/>
<circle cx="105.5" cy="184.5" r="3"/>
<circle cx="126.5" cy="173.5" r="3"/>
<circle cx="149.5" cy="158.5" r="3"/>
<circle cx="145.5" cy="210.5" r="3"/>
<circle cx="364.5" cy="104.5" r="3"/>
<circle cx="102.5" cy="201.5" r="3"/>
<circle cx="104.5" cy="203.5" r="3"/>
<circle cx="146.5" cy="211.5" r="3"/>
<circle cx="107.5" cy="206.5" r="3"/>
<circle cx="204.5" cy="128.5" r="3"/>
<circle cx="115.5" cy="178.5" r="3"/>
<circle cx="238.5" cy="116.5" r="3"/>
<circle cx="119.5" cy="209.5" r="3"/>
<circle cx="122.5" cy="210.5" r="3"/>
<circle cx="112.5" cy="179.5" r="3"/>
<circle cx="156.5" cy="211.5" r="3"/>
<circle cx="100.5" cy="193.5" r="3"/>
<circle cx="141.5" cy="164.5" r="3"/>
<circle cx="116.5" cy="208.5" r="3"/>
<circle cx="139.5" cy="164.5" r="3"/>
<circle cx="292.5" cy="108.5" r="3"/>
<circle cx="246.5" cy="110.5" r="3"/>
<circle cx="147.5" cy="160.5" r="3"/>
<circle cx="130.5" cy="210.5" r="3"/>
<circle cx="111.5" cy="208.5" r="3"/>
<circle cx="102.5" cy="188.5" r="3"/>
<circle cx="118.5" cy="176.5" r="3"/>
<circle cx="134.5" cy="168.5" r="3"/>
<circle cx="100.5" cy="191.5" r="3"/>
<circle cx="320.5" cy="106.5" r="3"/>
<circle cx="128.5" cy="210.5" r="3"/>
<circle cx="113.5" cy="208.5" r="3"/>
<circle cx="100.5" cy="192.5" r="3"/>
<circle cx="127.5" cy="172.5" r="3"/>
<circle cx="101.5" cy="188.5" r="3"/>
<circle cx="153.5" cy="211.5" r="3"/>
<circle cx="143.5" cy="211.5" r="3"/>
<circle cx="117.5" cy="176.5" r="3"/>
<circle cx="150.5" cy="211.5" r="3"/>
<circle cx="165.5" cy="212.5" r="3"/>
<circle cx="108.5" cy="207.5" r="3"/>
<circle cx="238.5" cy="113.5" r="3"/>
<circle cx="133.5" cy="210.5" r="3"/>
<circle cx="110.5" cy="180.5" r="3"/>
<circle cx="117.5" cy="177.5" r="3"/>
<circle cx="135.5" cy="210.5" r="3"/>
<circle cx="248.5" cy="111.5" r="3"/>
<circle cx="101.5" cy="189.5" r="3"/>
<circle cx="132.5" cy="169.5" r="3"/>
<circle cx="149.5" cy="211.5" r="3"/>
<circle cx="229.5" cy="121.5" r="3"/>
<circle cx="116.5" cy="209.5" r="3"/>
<circle cx="138.5" cy="165.5" r="3"/>
<circle cx="142.5" cy="162.5" r="3"/>
<circle cx="121.5" cy="174.5" r="3"/>
<circle cx="371.5" cy="104.5" r="3"/>
<circle cx="111.5" cy="179.5" r="3"/>
<circle cx="144.5" cy="161.5" r="3"/>
<circle cx="158.5" cy="211.5" r="3"/>
<circle cx="122.5" cy="174.5" r="3"/>
<circle cx="115.5" cy="208.5" r="3"/>
<circle cx="102.5" cy="187.5" r="3"/>
<circle cx="106.5" cy="205.5" r="3"/>
<circle cx="386.5" cy="103.5" r="3"/>
<circle cx="253.5" cy="108.5" r="3"/>
<circle cx="117.5" cy="209.5" r="3"/>
<circle cx="230.5" cy="114.5" r="3"/>
<circle cx="144.5" cy="211.5" r="3"/>
<circle cx="109.5" cy="181.5" r="3"/>
<circle cx="174.5" cy="148.5" r="3"/>
<circle cx="125.5" cy="209.5" r="3"/>
<circle cx="152.5" cy="211.5" r="3"/>
<circle cx="315.5" cy="105.5" r="3"/>
<circle cx="150.5" cy="158.5" r="3"/>
<circle cx="137.5" cy="211.5" r="3"/>
<circle cx="346.5" cy="105.5" r="3"/>
<circle cx="110.5" cy="207.5" r="3"/>
<circle cx="160.5" cy="211.5" r="3"/>
<circle cx="298.5" cy="106.5" r="3"/>
<circle cx="124.5" cy="209.5" r="3"/>
<circle cx="142.5" cy="163.5" r="3"/>
<circle cx="134.5" cy="210.5" r="3"/>
<circle cx="113.5" cy="178.5" r="3"/>
<circle cx="105.5" cy="205.5" r="3"/>
<circle cx="145.5" cy="161.5" r="3"/>
<circle cx="112.5" cy="208.5" r="3"/>
<circle cx="135.5" cy="167.5" r="3"/>
<circle cx="104.5" cy="204.5" r="3"/>
<circle cx="103.5" cy="202.5" r="3"/>
<circle cx="155.5" cy="211.5" r="3"/>
<circle cx="304.5" cy="107.5" r="3"/>
<circle cx="312.5" cy="105.5" r="3"/>
<circle cx="120.5" cy="176.5" r="3"/>
<circle cx="101.5" cy="198.5" r="3"/>
<circle cx="105.5" cy="204.5" r="3"/>
<circle cx="249.5" cy="109.5" r="3"/>
<circle cx="298.5" cy="108.5" r="3"/>
<circle cx="103.5" cy="186.5" r="3"/>
<circle cx="103.5" cy="185.5" r="3"/>
<circle cx="131.5" cy="170.5" r="3"/>
<circle cx="130.5" cy="170.5" r="3"/>
<circle cx="140.5" cy="211.5" r="3"/>
<circle cx="151.5" cy="211.5" r="3"/>
<circle cx="161.5" cy="211.5" r="3"/>
<circle cx="143.5" cy="161.5" r="3"/>
<circle cx="141.5" cy="210.5" r="3"/>
<circle cx="130.5" cy="171.5" r="3"/>
<circle cx="109.5" cy="207.5" r="3"/>
<circle cx="123.5" cy="210.5" r="3"/>
<circle cx="113.5" cy="179.5" r="3"/>
<circle cx="111.5" cy="180.5" r="3"/>
<circle cx="340.5" cy="104.5" r="3"/>
<circle cx="153.5" cy="156.5" r="3"/>
<circle cx="132.5" cy="210.5" r="3"/>
<circle cx="126.5" cy="210.5" r="3"/>
<circle cx="100.5" cy="195.5" r="3"/>
<circle cx="125.5" cy="173.5" r="3"/>
<circle cx="369.5" cy="104.5" r="3"/>
<circle cx="213.5" cy="122.5" r="3"/>
<circle cx="154.5" cy="211.5" r="3"/>
<circle cx="148.5" cy="211.5" r="3"/>
<circle cx="163.5" cy="211.5" r="3"/>
<circle cx="108.5" cy="206.5" r="3"/>
<circle cx="138.5" cy="210.5" r="3"/>
<circle cx="145.5" cy="211.5" r="3"/>
<circle cx="129.5" cy="171.5" r="3"/>
<circle cx="137.5" cy="167.5" r="3"/>
<circle cx="107.5" cy="183.5" r="3"/>
<circle cx="114.5" cy="178.5" r="3"/>
<circle cx="331.5" cy="105.5" r="3"/>
<circle cx="295.5" cy="108.5" r="3"/>
<circle cx="140.5" cy="164.5" r="3"/>
<circle cx="121.5" cy="175.5" r="3"/>
<circle cx="147.5" cy="210.5" r="3"/>
<circle cx="306.5" cy="106.5" r="3"/>
<circle cx="119.5" cy="176.5" r="3"/>
<circle cx="133.5" cy="168.5" r="3"/>
<circle cx="100.5" cy="197.5" r="3"/>
<circle cx="128.5" cy="172.5" r="3"/>
<circle cx="118.5" cy="208.5" r="3"/>
<circle cx="162.5" cy="211.5" r="3"/>
<circle cx="146.5" cy="160.5" r="3"/>
<circle cx="325.5" cy="105.5" r="3"/>
<circle cx="136.5" cy="210.5" r="3"/>
<circle cx="131.5" cy="210.5" r="3"/>
<circle cx="127.5" cy="209.5" r="3"/>
<circle cx="137.5" cy="210.5" r="3"/>
<circle cx="323.5" cy="106.5" r="3"/>
<circle cx="215.5" cy="123.5" r="3"/>
<circle cx="147.5" cy="159.5" r="3"/>
<circle cx="118.5" cy="209.5" r="3"/>
<circle cx="135.5" cy="211.5" r="3"/>
<circle cx="164.5" cy="211.5" r="3"/>
<circle cx="138.5" cy="166.5" r="3"/>
<circle cx="110.5" cy="181.5" r="3"/>
<circle cx="119.5" cy="175.5" r="3"/>
<circle cx="193.5" cy="135.5" r="3"/>
<circle cx="223.5" cy="122.5" r="3"/>
<circle cx="233.5" cy="115.5" r="3"/>
<circle cx="121.5" cy="209.5" r="3"/>
<circle cx="252.5" cy="114.5" r="3"/>
<circle cx="353.5" cy="104.5" r="3"/>
<circle cx="218.5" cy="119.5" r="3"/>
<circle cx="174.5" cy="144.5" r="3"/>
<circle cx="159.5" cy="211.5" r="3"/>
<circle cx="139.5" cy="165.5" r="3"/>
<circle cx="188.5" cy="135.5" r="3"/>
<circle cx="101.5" cy="190.5" r="3"/>
<circle cx="126.5" cy="172.5" r="3"/>
<circle cx="296.5" cy="110.5" r="3"/>
<circle cx="385.5" cy="103.5" r="3"/>
<circle cx="139.5" cy="210.5" r="3"/>
<circle cx="233.5" cy="118.5" r="3"/>
<circle cx="382.5" cy="103.5" r="3"/>
<circle cx="142.5" cy="210.5" r="3"/>
<circle cx="112.5" cy="207.5" r="3"/>
<circle cx="117.5" cy="208.5" r="3"/>
<circle cx="100.5" cy="196.5" r="3"/>
<circle cx="133.5" cy="169.5" r="3"/>
<circle cx="114.5" cy="208.5" r="3"/>
<circle cx="127.5" cy="210.5" r="3"/>
<circle cx="192.5" cy="131.5" r="3"/>
<circle cx="108.5" cy="181.5" r="3"/>
<circle cx="102.5" cy="186.5" r="3"/>
<circle cx="158.5" cy="153.5" r="3"/>
<circle cx="106.5" cy="184.5" r="3"/>
<circle cx="101.5" cy="201.5" r="3"/>
<circle cx="138.5" cy="211.5" r="3"/>
<circle cx="230.5" cy="116.5" r="3"/>
<circle cx="208.5" cy="125.5" r="3"/>
<circle cx="132.5" cy="211.5" r="3"/>
<circle cx="129.5" cy="210.5" r="3"/>
<circle cx="102.5" cy="202.5" r="3"/>
<circle cx="101.5" cy="200.5" r="3"/>
<circle cx="157.5" cy="211.5" r="3"/>
<circle cx="328.5" cy="105.5" r="3"/>
<circle cx="333.5" cy="104.5" r="3"/>
<circle cx="136.5" cy="167.5" r="3"/>
</g>
</g>
<g shape-rendering="crispEdges">
<rect x="78.5" y="78.5" width="553" height="304" fill="none" stroke="#000"/>
<line x1="100.5" y1="382.5" x2="100.5" y2="391.5" stroke="#000"/>
<line x1="179.5" y1="382.5" x2="179.5" y2="391.5" stroke="#000"/>
<line x1="257.5" y1="382.5" x2="257.5" y2="391.5" stroke="#000"/>
<line x1="336.5" y1="382.5" x2="336.5" y2="391.5" stroke="#000"/>
<line x1="415.5" y1="382.5" x2="415.5" y2="391.5" stroke="#000"/>
<line x1="493.5" y1="382.5" x2="493.5" y2="391.5" stroke="#000"/>
<line x1="572.5" y1="382.5" x2="572.5" y2="391.5" stroke="#000"/>
<line x1="69" y1="367.5" x2="78.5" y2="367.5" stroke="#000"/>
<line x1="69" y1="320.5" x2="78.5" y2="320.5" stroke="#000"/>
<line x1="69" y1="272.5" x2="78.5" y2="272.5" stroke="#000"/>
<line x1="69" y1="225.5" x2="78.5" y2="225.5" stroke="#000"/>
<line x1="69" y1="178.5" x2="78.5" y2="178.5" stroke="#000"/>
<line x1="69" y1="130.5" x2="78.5" y2="130.5" stroke="#000"/>
<line x1="69" y1="83.5" x2="78.5" y2="83.5" stroke="#000"/>
</g>
<g>
<text x="99.7" y="417" text-anchor="middle">-150</text>
<text x="178.4" y="417" text-anchor="middle">-100</text>
<text x="257.0" y="417" text-anchor="middle">-50</text>
<text x="335.7" y="417" text-anchor="middle">0</text>
<text x="414.4" y="417" text-anchor="middle">50</text>
<text x="493.0" y="417" text-anchor="middle">100</text>
<text x="571.7" y="417" text-anchor="middle">150</text>
<text transform="translate(56,367.0) rotate(-90)" text-anchor="middle">-150</text>
<text transform="translate(56,319.7) rotate(-90)" text-anchor="middle">-100</text>
<text transform="translate(56,272.3) rotate(-90)" text-anchor="middle">-50</text>
<text transform="translate(56,225.0) rotate(-90)" text-anchor="middle">0</text>
<text transform="translate(56,177.7) rotate(-90)" text-anchor="middle">50</text>
<text transform="translate(56,130.3) rotate(-90)" text-anchor="middle">100</text>
<text transform="translate(56,83.0) rotate(-90)" text-anchor="middle">150</text>
<text x="354.5" y="455.5" text-anchor="middle">PHATE1</text>
<text transform="translate(18,230) rotate(-90)" text-anchor="middle" textLength="65" lengthAdjust="spacingAndGlyphs">PHATE2</text>
</g>
</svg>
</body></html>
